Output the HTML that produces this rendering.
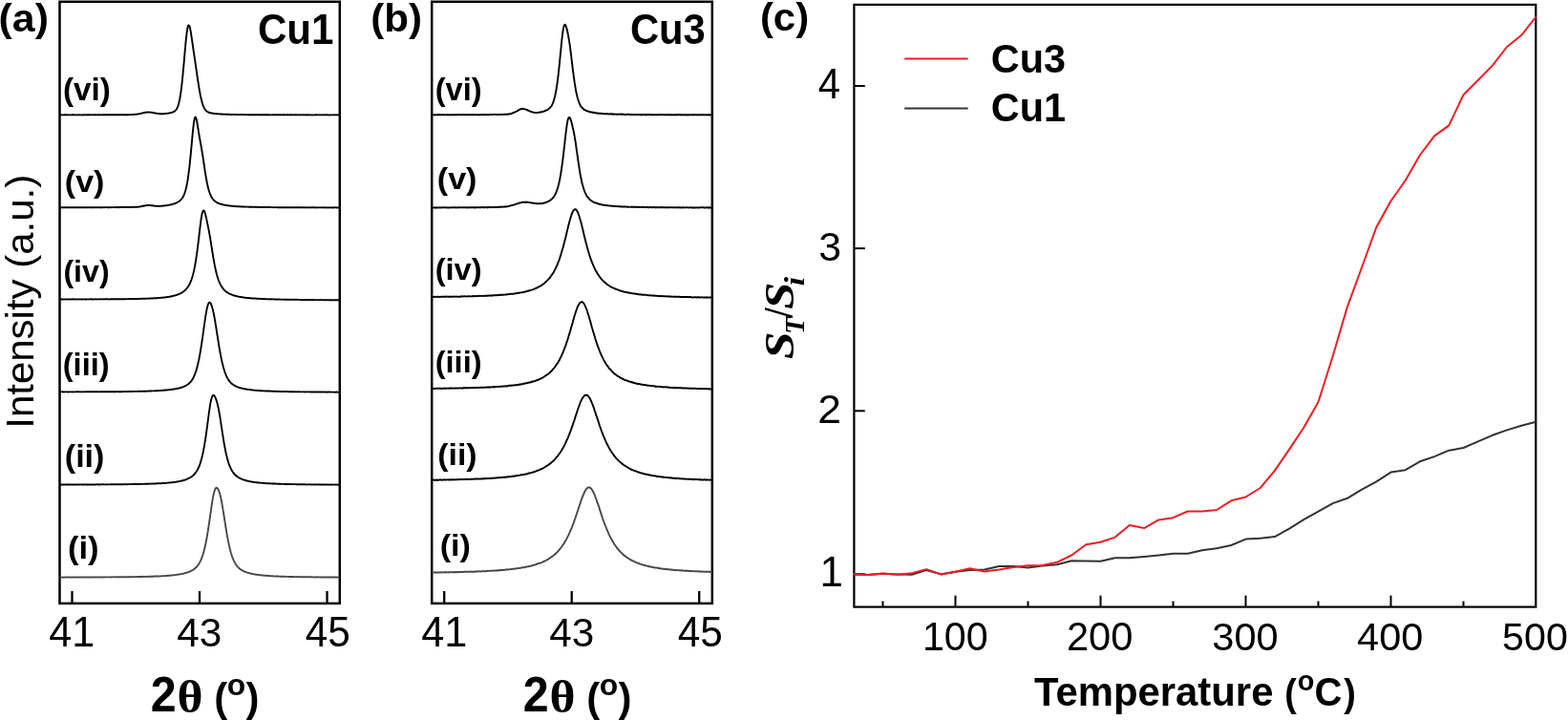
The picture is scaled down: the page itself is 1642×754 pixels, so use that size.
<!DOCTYPE html>
<html><head><meta charset="utf-8"><title>XRD and S_T/S_i figure</title>
<style>
html,body{margin:0;padding:0;background:#fff;overflow:hidden;width:1642px;height:754px;}
svg{display:block;}
.sb{font-family:"Liberation Sans",Arial,sans-serif;font-weight:bold;font-size:100px}
.sr{font-family:"Liberation Sans",Arial,sans-serif;font-weight:normal;font-size:100px}
.serif{font-family:"Liberation Serif","Times New Roman",serif;font-weight:normal;font-size:100px}
.serifb{font-family:"Liberation Serif","Times New Roman",serif;font-weight:bold;font-size:100px}
.sbi{font-family:"Liberation Serif","Times New Roman",serif;font-weight:bold;font-style:italic;font-size:100px}
</style></head>
<body>
<svg width="1642" height="754" viewBox="0 0 1642 754">
<rect width="1642" height="754" fill="#fff"/>
<rect x="62.5" y="1.8" width="293.3" height="630.1" fill="none" stroke="#000" stroke-width="2.5"/>
<line x1="75.50" y1="619" x2="75.50" y2="631" stroke="#000" stroke-width="2.3"/>
<line x1="209.00" y1="619" x2="209.00" y2="631" stroke="#000" stroke-width="2.3"/>
<line x1="342.50" y1="619" x2="342.50" y2="631" stroke="#000" stroke-width="2.3"/>
<rect x="452.2" y="1.8" width="293.6" height="630.1" fill="none" stroke="#000" stroke-width="2.5"/>
<line x1="465.20" y1="619" x2="465.20" y2="631" stroke="#000" stroke-width="2.3"/>
<line x1="598.70" y1="619" x2="598.70" y2="631" stroke="#000" stroke-width="2.3"/>
<line x1="732.20" y1="619" x2="732.20" y2="631" stroke="#000" stroke-width="2.3"/>
<rect x="894.4" y="4.9" width="713.9" height="630.7" fill="none" stroke="#000" stroke-width="2.2"/>
<line x1="924.50" y1="629.6" x2="924.50" y2="635.6" stroke="#000" stroke-width="2"/>
<line x1="1000.50" y1="623.6" x2="1000.50" y2="635.6" stroke="#000" stroke-width="2"/>
<line x1="1076.50" y1="629.6" x2="1076.50" y2="635.6" stroke="#000" stroke-width="2"/>
<line x1="1152.50" y1="623.6" x2="1152.50" y2="635.6" stroke="#000" stroke-width="2"/>
<line x1="1228.50" y1="629.6" x2="1228.50" y2="635.6" stroke="#000" stroke-width="2"/>
<line x1="1304.50" y1="623.6" x2="1304.50" y2="635.6" stroke="#000" stroke-width="2"/>
<line x1="1380.50" y1="629.6" x2="1380.50" y2="635.6" stroke="#000" stroke-width="2"/>
<line x1="1456.50" y1="623.6" x2="1456.50" y2="635.6" stroke="#000" stroke-width="2"/>
<line x1="1532.50" y1="629.6" x2="1532.50" y2="635.6" stroke="#000" stroke-width="2"/>
<line x1="894.4" y1="601.3" x2="905.8" y2="601.3" stroke="#000" stroke-width="2"/>
<line x1="894.4" y1="430.3" x2="905.8" y2="430.3" stroke="#000" stroke-width="2"/>
<line x1="894.4" y1="260.1" x2="905.8" y2="260.1" stroke="#000" stroke-width="2"/>
<line x1="894.4" y1="90.0" x2="905.8" y2="90.0" stroke="#000" stroke-width="2"/>
<line x1="947.2" y1="61.5" x2="1013.6" y2="61.5" stroke="#ee1c24" stroke-width="2"/>
<line x1="947.2" y1="113.5" x2="1013.6" y2="113.5" stroke="#333" stroke-width="2"/>
<polyline points="62.5,120.36 63.0,120.34 63.5,120.39 64.0,120.36 64.5,120.32 65.0,120.37 65.5,120.43 66.0,120.40 66.5,120.31 67.0,120.27 67.5,120.31 68.0,120.35 68.5,120.21 69.0,120.33 69.5,120.27 70.0,120.30 70.5,120.31 71.0,120.33 71.5,120.37 72.0,120.41 72.5,120.33 73.0,120.42 73.5,120.30 74.0,120.36 74.5,120.40 75.0,120.35 75.5,120.30 76.0,120.28 76.5,120.31 77.0,120.35 77.5,120.28 78.0,120.32 78.5,120.33 79.0,120.37 79.5,120.35 80.0,120.36 80.5,120.30 81.0,120.33 81.5,120.38 82.0,120.42 82.5,120.26 83.0,120.42 83.5,120.41 84.0,120.38 84.5,120.35 85.0,120.31 85.5,120.42 86.0,120.45 86.5,120.44 87.0,120.41 87.5,120.35 88.0,120.25 88.5,120.32 89.0,120.36 89.5,120.25 90.0,120.35 90.5,120.35 91.0,120.36 91.5,120.25 92.0,120.28 92.5,120.29 93.0,120.25 93.5,120.42 94.0,120.29 94.5,120.34 95.0,120.30 95.5,120.41 96.0,120.39 96.5,120.35 97.0,120.18 97.5,120.31 98.0,120.35 98.5,120.37 99.0,120.27 99.5,120.42 100.0,120.23 100.5,120.27 101.0,120.36 101.5,120.31 102.0,120.42 102.5,120.31 103.0,120.26 103.5,120.28 104.0,120.23 104.5,120.22 105.0,120.33 105.5,120.33 106.0,120.37 106.5,120.25 107.0,120.39 107.5,120.27 108.0,120.38 108.5,120.26 109.0,120.24 109.5,120.30 110.0,120.35 110.5,120.29 111.0,120.25 111.5,120.20 112.0,120.19 112.5,120.31 113.0,120.34 113.5,120.26 114.0,120.21 114.5,120.32 115.0,120.19 115.5,120.23 116.0,120.30 116.5,120.13 117.0,120.29 117.5,120.23 118.0,120.27 118.5,120.25 119.0,120.27 119.5,120.30 120.0,120.21 120.5,120.34 121.0,120.29 121.5,120.30 122.0,120.32 122.5,120.29 123.0,120.29 123.5,120.24 124.0,120.15 124.5,120.23 125.0,120.19 125.5,120.14 126.0,120.24 126.5,120.19 127.0,120.16 127.5,120.16 128.0,120.23 128.5,120.24 129.0,120.29 129.5,120.21 130.0,120.27 130.5,120.29 131.0,120.27 131.5,120.05 132.0,120.27 132.5,120.21 133.0,120.21 133.5,120.20 134.0,120.20 134.5,120.19 135.0,120.14 135.5,120.04 136.0,120.13 136.5,120.08 137.0,120.18 137.5,120.09 138.0,120.09 138.5,120.02 139.0,120.01 139.5,120.02 140.0,119.90 140.5,119.97 141.0,119.91 141.5,119.80 142.0,119.68 142.5,119.79 143.0,119.68 143.5,119.60 144.0,119.54 144.5,119.58 145.0,119.38 145.5,119.30 146.0,119.10 146.5,119.18 147.0,119.03 147.5,118.92 148.0,118.74 148.5,118.67 149.0,118.52 149.5,118.41 150.0,118.25 150.5,118.05 151.0,118.09 151.5,117.81 152.0,117.82 152.5,117.74 153.0,117.62 153.5,117.66 154.0,117.56 154.5,117.52 155.0,117.56 155.5,117.49 156.0,117.62 156.5,117.58 157.0,117.57 157.5,117.53 158.0,117.63 158.5,117.84 159.0,117.85 159.5,117.93 160.0,118.13 160.5,118.05 161.0,118.19 161.5,118.30 162.0,118.46 162.5,118.47 163.0,118.57 163.5,118.59 164.0,118.81 164.5,118.89 165.0,118.88 165.5,118.98 166.0,118.94 166.5,119.04 167.0,119.18 167.5,119.14 168.0,119.29 168.5,119.12 169.0,119.21 169.5,119.16 170.0,119.20 170.5,119.15 171.0,119.10 171.5,119.06 172.0,119.26 172.5,119.04 173.0,118.88 173.5,118.92 174.0,118.95 174.5,118.83 175.0,118.88 175.5,118.80 176.0,118.66 176.5,118.56 177.0,118.45 177.5,118.38 178.0,118.24 178.5,118.30 179.0,118.21 179.5,117.91 180.0,117.77 180.5,117.57 181.0,117.44 181.5,117.10 182.0,116.97 182.5,116.82 183.0,116.37 183.5,116.01 184.0,115.41 184.5,114.92 185.0,114.06 185.5,113.10 186.0,112.15 186.5,110.62 187.0,108.94 187.5,107.10 188.0,104.83 188.5,102.26 189.0,99.12 189.5,95.78 190.0,91.92 190.5,87.55 191.0,82.92 191.5,77.82 192.0,72.66 192.5,66.90 193.0,61.19 193.5,55.41 194.0,49.82 194.5,44.46 195.0,39.55 195.5,35.11 196.0,31.53 196.5,28.73 197.0,27.02 197.5,26.50 198.0,26.62 198.5,27.62 199.0,29.45 199.5,31.92 200.0,34.87 200.5,38.07 201.0,41.39 201.5,44.83 202.0,48.48 202.5,51.89 203.0,55.28 203.5,58.71 204.0,62.11 204.5,65.38 205.0,69.00 205.5,72.39 206.0,75.86 206.5,79.33 207.0,82.80 207.5,86.00 208.0,89.18 208.5,92.36 209.0,95.25 209.5,97.86 210.0,100.47 210.5,102.73 211.0,104.87 211.5,106.68 212.0,108.51 212.5,110.04 213.0,111.33 213.5,112.47 214.0,113.20 214.5,114.29 215.0,115.00 215.5,115.60 216.0,116.09 216.5,116.56 217.0,116.95 217.5,117.21 218.0,117.46 218.5,117.78 219.0,117.82 219.5,118.11 220.0,118.20 220.5,118.27 221.0,118.41 221.5,118.47 222.0,118.65 222.5,118.71 223.0,118.73 223.5,118.77 224.0,118.92 224.5,119.02 225.0,119.01 225.5,119.09 226.0,119.10 226.5,119.17 227.0,119.19 227.5,119.27 228.0,119.20 228.5,119.37 229.0,119.35 229.5,119.42 230.0,119.41 230.5,119.48 231.0,119.43 231.5,119.59 232.0,119.45 232.5,119.51 233.0,119.61 233.5,119.71 234.0,119.66 234.5,119.65 235.0,119.60 235.5,119.69 236.0,119.72 236.5,119.84 237.0,119.80 237.5,119.68 238.0,119.91 238.5,119.78 239.0,119.77 239.5,119.92 240.0,119.85 240.5,119.84 241.0,119.89 241.5,119.94 242.0,119.96 242.5,119.83 243.0,120.04 243.5,119.99 244.0,119.92 244.5,119.90 245.0,119.91 245.5,119.98 246.0,119.94 246.5,119.94 247.0,120.05 247.5,120.03 248.0,119.99 248.5,120.07 249.0,120.11 249.5,119.97 250.0,120.01 250.5,120.11 251.0,120.10 251.5,120.08 252.0,120.14 252.5,120.01 253.0,120.00 253.5,120.04 254.0,120.10 254.5,120.05 255.0,120.08 255.5,120.05 256.0,120.08 256.5,120.06 257.0,120.15 257.5,120.18 258.0,120.11 258.5,120.13 259.0,120.11 259.5,120.18 260.0,120.16 260.5,120.25 261.0,120.09 261.5,120.19 262.0,120.19 262.5,120.15 263.0,120.21 263.5,120.09 264.0,120.31 264.5,120.10 265.0,120.24 265.5,120.12 266.0,120.26 266.5,120.17 267.0,120.21 267.5,120.21 268.0,120.27 268.5,120.19 269.0,120.03 269.5,120.17 270.0,120.23 270.5,120.19 271.0,120.27 271.5,120.29 272.0,120.22 272.5,120.14 273.0,120.31 273.5,120.30 274.0,120.22 274.5,120.37 275.0,120.22 275.5,120.17 276.0,120.24 276.5,120.31 277.0,120.19 277.5,120.37 278.0,120.20 278.5,120.31 279.0,120.29 279.5,120.25 280.0,120.32 280.5,120.17 281.0,120.34 281.5,120.26 282.0,120.23 282.5,120.31 283.0,120.33 283.5,120.32 284.0,120.39 284.5,120.34 285.0,120.35 285.5,120.24 286.0,120.28 286.5,120.31 287.0,120.28 287.5,120.30 288.0,120.31 288.5,120.34 289.0,120.28 289.5,120.27 290.0,120.24 290.5,120.24 291.0,120.36 291.5,120.29 292.0,120.34 292.5,120.22 293.0,120.18 293.5,120.23 294.0,120.37 294.5,120.36 295.0,120.32 295.5,120.25 296.0,120.29 296.5,120.29 297.0,120.28 297.5,120.15 298.0,120.25 298.5,120.30 299.0,120.40 299.5,120.32 300.0,120.39 300.5,120.29 301.0,120.30 301.5,120.08 302.0,120.34 302.5,120.35 303.0,120.42 303.5,120.29 304.0,120.32 304.5,120.28 305.0,120.25 305.5,120.28 306.0,120.30 306.5,120.40 307.0,120.32 307.5,120.27 308.0,120.33 308.5,120.34 309.0,120.28 309.5,120.39 310.0,120.21 310.5,120.31 311.0,120.37 311.5,120.25 312.0,120.35 312.5,120.41 313.0,120.36 313.5,120.23 314.0,120.29 314.5,120.41 315.0,120.35 315.5,120.33 316.0,120.36 316.5,120.38 317.0,120.29 317.5,120.32 318.0,120.34 318.5,120.30 319.0,120.33 319.5,120.41 320.0,120.28 320.5,120.45 321.0,120.45 321.5,120.24 322.0,120.33 322.5,120.36 323.0,120.29 323.5,120.30 324.0,120.33 324.5,120.39 325.0,120.31 325.5,120.45 326.0,120.36 326.5,120.34 327.0,120.43 327.5,120.38 328.0,120.37 328.5,120.33 329.0,120.45 329.5,120.39 330.0,120.33 330.5,120.25 331.0,120.37 331.5,120.28 332.0,120.25 332.5,120.33 333.0,120.37 333.5,120.43 334.0,120.37 334.5,120.40 335.0,120.28 335.5,120.35 336.0,120.36 336.5,120.40 337.0,120.36 337.5,120.40 338.0,120.32 338.5,120.37 339.0,120.38 339.5,120.28 340.0,120.36 340.5,120.33 341.0,120.24 341.5,120.41 342.0,120.33 342.5,120.30 343.0,120.33 343.5,120.36 344.0,120.45 344.5,120.35 345.0,120.39 345.5,120.44 346.0,120.39 346.5,120.42 347.0,120.33 347.5,120.40 348.0,120.36 348.5,120.42 349.0,120.30 349.5,120.31 350.0,120.44 350.5,120.35 351.0,120.34 351.5,120.37 352.0,120.32 352.5,120.44 353.0,120.29 353.5,120.35 354.0,120.38 354.5,120.36 355.0,120.31 355.5,120.31" fill="none" stroke="#000" stroke-width="1.9" stroke-linejoin="round"/>
<polyline points="62.5,217.31 63.0,217.34 63.5,217.31 64.0,217.21 64.5,217.34 65.0,217.31 65.5,217.25 66.0,217.32 66.5,217.30 67.0,217.30 67.5,217.28 68.0,217.31 68.5,217.24 69.0,217.27 69.5,217.25 70.0,217.31 70.5,217.28 71.0,217.26 71.5,217.23 72.0,217.26 72.5,217.27 73.0,217.26 73.5,217.35 74.0,217.33 74.5,217.11 75.0,217.16 75.5,217.26 76.0,217.24 76.5,217.28 77.0,217.28 77.5,217.39 78.0,217.20 78.5,217.24 79.0,217.38 79.5,217.30 80.0,217.30 80.5,217.23 81.0,217.16 81.5,217.27 82.0,217.26 82.5,217.18 83.0,217.21 83.5,217.25 84.0,217.19 84.5,217.24 85.0,217.26 85.5,217.25 86.0,217.22 86.5,217.28 87.0,217.30 87.5,217.26 88.0,217.19 88.5,217.28 89.0,217.21 89.5,217.29 90.0,217.17 90.5,217.29 91.0,217.23 91.5,217.16 92.0,217.21 92.5,217.23 93.0,217.25 93.5,217.17 94.0,217.16 94.5,217.24 95.0,217.20 95.5,217.24 96.0,217.27 96.5,217.12 97.0,217.23 97.5,217.29 98.0,217.20 98.5,217.16 99.0,217.26 99.5,217.22 100.0,217.26 100.5,217.18 101.0,217.11 101.5,217.19 102.0,217.17 102.5,217.24 103.0,217.21 103.5,217.10 104.0,217.12 104.5,217.24 105.0,217.23 105.5,217.15 106.0,217.18 106.5,217.21 107.0,217.21 107.5,217.23 108.0,217.19 108.5,217.17 109.0,217.15 109.5,217.23 110.0,217.03 110.5,217.15 111.0,217.16 111.5,217.07 112.0,217.17 112.5,217.11 113.0,217.20 113.5,217.14 114.0,217.18 114.5,217.21 115.0,217.16 115.5,217.08 116.0,217.04 116.5,217.23 117.0,217.12 117.5,217.08 118.0,217.13 118.5,217.11 119.0,217.16 119.5,217.11 120.0,217.11 120.5,217.06 121.0,217.13 121.5,217.03 122.0,217.13 122.5,217.18 123.0,216.99 123.5,216.93 124.0,217.11 124.5,217.23 125.0,217.01 125.5,216.99 126.0,217.10 126.5,217.01 127.0,217.02 127.5,217.03 128.0,217.07 128.5,217.01 129.0,217.05 129.5,217.02 130.0,216.97 130.5,217.00 131.0,216.95 131.5,217.01 132.0,216.93 132.5,216.93 133.0,217.08 133.5,216.98 134.0,216.97 134.5,217.00 135.0,216.94 135.5,216.94 136.0,216.98 136.5,216.96 137.0,216.87 137.5,216.98 138.0,216.89 138.5,216.85 139.0,216.85 139.5,216.87 140.0,216.98 140.5,216.80 141.0,216.86 141.5,216.70 142.0,216.81 142.5,216.84 143.0,216.75 143.5,216.69 144.0,216.70 144.5,216.69 145.0,216.64 145.5,216.66 146.0,216.49 146.5,216.37 147.0,216.32 147.5,216.24 148.0,216.16 148.5,216.05 149.0,215.96 149.5,215.74 150.0,215.78 150.5,215.59 151.0,215.44 151.5,215.44 152.0,215.39 152.5,215.24 153.0,215.14 153.5,215.01 154.0,215.18 154.5,215.02 155.0,214.88 155.5,214.89 156.0,214.95 156.5,214.87 157.0,215.01 157.5,215.01 158.0,215.17 158.5,215.22 159.0,215.07 159.5,215.31 160.0,215.28 160.5,215.52 161.0,215.54 161.5,215.63 162.0,215.59 162.5,215.82 163.0,215.87 163.5,215.73 164.0,215.84 164.5,215.80 165.0,215.85 165.5,215.79 166.0,215.97 166.5,215.79 167.0,215.82 167.5,215.85 168.0,215.75 168.5,215.75 169.0,215.69 169.5,215.68 170.0,215.57 170.5,215.57 171.0,215.54 171.5,215.48 172.0,215.45 172.5,215.37 173.0,215.37 173.5,215.24 174.0,215.19 174.5,215.08 175.0,215.02 175.5,214.90 176.0,214.92 176.5,214.73 177.0,214.67 177.5,214.64 178.0,214.54 178.5,214.39 179.0,214.18 179.5,214.21 180.0,214.07 180.5,213.84 181.0,213.83 181.5,213.60 182.0,213.42 182.5,213.32 183.0,213.13 183.5,212.96 184.0,212.65 184.5,212.64 185.0,212.26 185.5,211.96 186.0,211.82 186.5,211.47 187.0,211.20 187.5,210.81 188.0,210.46 188.5,210.06 189.0,209.55 189.5,209.13 190.0,208.50 190.5,207.85 191.0,207.20 191.5,206.42 192.0,205.46 192.5,204.38 193.0,203.28 193.5,201.78 194.0,200.27 194.5,198.56 195.0,196.46 195.5,194.25 196.0,191.66 196.5,188.82 197.0,185.46 197.5,181.88 198.0,177.98 198.5,173.49 199.0,169.16 199.5,163.94 200.0,158.69 200.5,153.34 201.0,147.77 201.5,142.22 202.0,137.19 202.5,132.51 203.0,128.45 203.5,125.40 204.0,123.48 204.5,122.57 205.0,122.95 205.5,124.23 206.0,126.25 206.5,128.85 207.0,131.90 207.5,134.99 208.0,138.23 208.5,141.23 209.0,144.20 209.5,146.97 210.0,149.72 210.5,152.40 211.0,155.28 211.5,158.27 212.0,161.23 212.5,164.45 213.0,167.83 213.5,171.24 214.0,174.65 214.5,178.07 215.0,181.28 215.5,184.47 216.0,187.28 216.5,189.99 217.0,192.51 217.5,194.70 218.0,196.87 218.5,198.61 219.0,200.28 219.5,201.81 220.0,203.17 220.5,204.29 221.0,205.44 221.5,206.29 222.0,207.32 222.5,207.98 223.0,208.61 223.5,209.18 224.0,209.74 224.5,210.22 225.0,210.59 225.5,210.98 226.0,211.38 226.5,211.67 227.0,212.05 227.5,212.33 228.0,212.50 228.5,212.76 229.0,212.86 229.5,213.17 230.0,213.32 230.5,213.52 231.0,213.75 231.5,213.66 232.0,213.96 232.5,214.01 233.0,214.24 233.5,214.24 234.0,214.41 234.5,214.55 235.0,214.68 235.5,214.74 236.0,214.78 236.5,214.88 237.0,215.05 237.5,215.08 238.0,215.05 238.5,215.28 239.0,215.32 239.5,215.41 240.0,215.40 240.5,215.53 241.0,215.47 241.5,215.63 242.0,215.61 242.5,215.73 243.0,215.80 243.5,215.74 244.0,215.83 244.5,215.88 245.0,215.99 245.5,216.00 246.0,215.92 246.5,216.06 247.0,216.11 247.5,216.23 248.0,216.03 248.5,216.13 249.0,216.27 249.5,216.14 250.0,216.18 250.5,216.31 251.0,216.37 251.5,216.29 252.0,216.39 252.5,216.39 253.0,216.49 253.5,216.43 254.0,216.51 254.5,216.41 255.0,216.48 255.5,216.50 256.0,216.60 256.5,216.58 257.0,216.52 257.5,216.62 258.0,216.65 258.5,216.61 259.0,216.62 259.5,216.64 260.0,216.56 260.5,216.69 261.0,216.71 261.5,216.66 262.0,216.77 262.5,216.65 263.0,216.71 263.5,216.73 264.0,216.89 264.5,216.69 265.0,216.83 265.5,216.86 266.0,216.84 266.5,216.90 267.0,216.78 267.5,216.71 268.0,216.91 268.5,216.80 269.0,216.86 269.5,216.82 270.0,216.96 270.5,216.96 271.0,216.87 271.5,216.98 272.0,216.94 272.5,216.93 273.0,216.95 273.5,216.95 274.0,217.00 274.5,216.99 275.0,216.96 275.5,217.05 276.0,216.96 276.5,217.02 277.0,217.04 277.5,217.11 278.0,216.99 278.5,217.13 279.0,217.05 279.5,217.03 280.0,217.01 280.5,217.09 281.0,217.06 281.5,217.00 282.0,217.00 282.5,217.04 283.0,217.04 283.5,217.15 284.0,217.17 284.5,217.15 285.0,217.12 285.5,217.08 286.0,217.11 286.5,217.17 287.0,217.25 287.5,217.18 288.0,217.11 288.5,217.14 289.0,217.11 289.5,217.10 290.0,217.14 290.5,217.16 291.0,217.27 291.5,217.16 292.0,217.24 292.5,217.27 293.0,217.18 293.5,217.27 294.0,217.22 294.5,217.16 295.0,217.20 295.5,217.19 296.0,217.18 296.5,217.18 297.0,217.21 297.5,217.23 298.0,217.15 298.5,217.21 299.0,217.12 299.5,217.23 300.0,217.25 300.5,217.23 301.0,217.24 301.5,217.26 302.0,217.19 302.5,217.22 303.0,217.26 303.5,217.30 304.0,217.26 304.5,217.40 305.0,217.24 305.5,217.31 306.0,217.33 306.5,217.24 307.0,217.21 307.5,217.19 308.0,217.27 308.5,217.33 309.0,217.28 309.5,217.28 310.0,217.25 310.5,217.30 311.0,217.15 311.5,217.29 312.0,217.28 312.5,217.20 313.0,217.41 313.5,217.20 314.0,217.22 314.5,217.22 315.0,217.36 315.5,217.24 316.0,217.33 316.5,217.33 317.0,217.31 317.5,217.22 318.0,217.26 318.5,217.40 319.0,217.23 319.5,217.26 320.0,217.30 320.5,217.36 321.0,217.33 321.5,217.36 322.0,217.25 322.5,217.37 323.0,217.35 323.5,217.22 324.0,217.41 324.5,217.46 325.0,217.28 325.5,217.33 326.0,217.41 326.5,217.24 327.0,217.21 327.5,217.25 328.0,217.30 328.5,217.30 329.0,217.37 329.5,217.35 330.0,217.26 330.5,217.38 331.0,217.45 331.5,217.42 332.0,217.40 332.5,217.35 333.0,217.41 333.5,217.29 334.0,217.40 334.5,217.35 335.0,217.42 335.5,217.38 336.0,217.29 336.5,217.36 337.0,217.43 337.5,217.29 338.0,217.33 338.5,217.32 339.0,217.27 339.5,217.42 340.0,217.44 340.5,217.41 341.0,217.38 341.5,217.37 342.0,217.38 342.5,217.33 343.0,217.43 343.5,217.44 344.0,217.43 344.5,217.34 345.0,217.38 345.5,217.37 346.0,217.49 346.5,217.39 347.0,217.27 347.5,217.40 348.0,217.49 348.5,217.42 349.0,217.44 349.5,217.39 350.0,217.27 350.5,217.28 351.0,217.31 351.5,217.38 352.0,217.41 352.5,217.43 353.0,217.37 353.5,217.45 354.0,217.38 354.5,217.35 355.0,217.45 355.5,217.34" fill="none" stroke="#000" stroke-width="1.9" stroke-linejoin="round"/>
<polyline points="62.5,313.42 63.0,313.37 63.5,313.38 64.0,313.26 64.5,313.51 65.0,313.48 65.5,313.39 66.0,313.45 66.5,313.42 67.0,313.37 67.5,313.47 68.0,313.39 68.5,313.39 69.0,313.36 69.5,313.44 70.0,313.40 70.5,313.44 71.0,313.37 71.5,313.42 72.0,313.35 72.5,313.46 73.0,313.42 73.5,313.43 74.0,313.43 74.5,313.35 75.0,313.45 75.5,313.53 76.0,313.31 76.5,313.30 77.0,313.32 77.5,313.46 78.0,313.41 78.5,313.47 79.0,313.45 79.5,313.42 80.0,313.42 80.5,313.40 81.0,313.46 81.5,313.34 82.0,313.38 82.5,313.42 83.0,313.51 83.5,313.36 84.0,313.34 84.5,313.37 85.0,313.46 85.5,313.39 86.0,313.48 86.5,313.29 87.0,313.47 87.5,313.46 88.0,313.31 88.5,313.41 89.0,313.47 89.5,313.40 90.0,313.46 90.5,313.54 91.0,313.41 91.5,313.38 92.0,313.35 92.5,313.43 93.0,313.38 93.5,313.38 94.0,313.38 94.5,313.43 95.0,313.32 95.5,313.29 96.0,313.24 96.5,313.45 97.0,313.39 97.5,313.47 98.0,313.38 98.5,313.33 99.0,313.40 99.5,313.37 100.0,313.30 100.5,313.32 101.0,313.48 101.5,313.39 102.0,313.39 102.5,313.35 103.0,313.32 103.5,313.42 104.0,313.35 104.5,313.31 105.0,313.35 105.5,313.30 106.0,313.36 106.5,313.42 107.0,313.30 107.5,313.43 108.0,313.30 108.5,313.35 109.0,313.29 109.5,313.32 110.0,313.34 110.5,313.31 111.0,313.29 111.5,313.29 112.0,313.28 112.5,313.23 113.0,313.30 113.5,313.34 114.0,313.37 114.5,313.35 115.0,313.46 115.5,313.32 116.0,313.27 116.5,313.41 117.0,313.23 117.5,313.35 118.0,313.23 118.5,313.31 119.0,313.16 119.5,313.33 120.0,313.27 120.5,313.21 121.0,313.37 121.5,313.31 122.0,313.26 122.5,313.21 123.0,313.25 123.5,313.24 124.0,313.28 124.5,313.28 125.0,313.19 125.5,313.19 126.0,313.19 126.5,313.14 127.0,313.18 127.5,313.20 128.0,313.24 128.5,313.28 129.0,313.14 129.5,313.22 130.0,313.15 130.5,313.30 131.0,313.16 131.5,313.19 132.0,313.10 132.5,313.10 133.0,313.15 133.5,313.11 134.0,313.15 134.5,313.03 135.0,313.15 135.5,313.05 136.0,313.20 136.5,313.07 137.0,313.15 137.5,312.99 138.0,313.09 138.5,313.00 139.0,313.02 139.5,313.04 140.0,313.01 140.5,313.04 141.0,313.06 141.5,313.04 142.0,312.99 142.5,312.90 143.0,312.92 143.5,312.95 144.0,312.82 144.5,312.98 145.0,312.91 145.5,312.90 146.0,312.96 146.5,312.93 147.0,312.89 147.5,312.80 148.0,312.87 148.5,312.86 149.0,312.77 149.5,312.87 150.0,312.82 150.5,312.66 151.0,312.77 151.5,312.67 152.0,312.80 152.5,312.76 153.0,312.63 153.5,312.62 154.0,312.66 154.5,312.63 155.0,312.71 155.5,312.64 156.0,312.56 156.5,312.59 157.0,312.42 157.5,312.53 158.0,312.54 158.5,312.46 159.0,312.40 159.5,312.45 160.0,312.51 160.5,312.38 161.0,312.27 161.5,312.40 162.0,312.17 162.5,312.28 163.0,312.19 163.5,312.25 164.0,312.11 164.5,312.21 165.0,312.11 165.5,311.95 166.0,311.90 166.5,311.96 167.0,312.02 167.5,311.91 168.0,311.86 168.5,311.80 169.0,311.82 169.5,311.75 170.0,311.70 170.5,311.57 171.0,311.65 171.5,311.61 172.0,311.39 172.5,311.55 173.0,311.40 173.5,311.26 174.0,311.11 174.5,311.20 175.0,311.13 175.5,310.99 176.0,310.84 176.5,310.94 177.0,310.76 177.5,310.68 178.0,310.79 178.5,310.66 179.0,310.49 179.5,310.31 180.0,310.28 180.5,309.99 181.0,310.02 181.5,309.86 182.0,309.70 182.5,309.56 183.0,309.55 183.5,309.38 184.0,309.24 184.5,309.13 185.0,308.86 185.5,308.67 186.0,308.46 186.5,308.36 187.0,308.22 187.5,307.96 188.0,307.79 188.5,307.44 189.0,307.24 189.5,306.96 190.0,306.66 190.5,306.55 191.0,306.18 191.5,305.75 192.0,305.39 192.5,305.06 193.0,304.57 193.5,304.25 194.0,303.69 194.5,303.25 195.0,302.67 195.5,302.13 196.0,301.45 196.5,300.76 197.0,300.06 197.5,299.28 198.0,298.44 198.5,297.51 199.0,296.57 199.5,295.39 200.0,294.10 200.5,292.80 201.0,291.24 201.5,289.75 202.0,287.93 202.5,285.88 203.0,283.89 203.5,281.59 204.0,278.87 204.5,276.26 205.0,273.33 205.5,270.06 206.0,266.69 206.5,263.05 207.0,259.27 207.5,255.20 208.0,251.12 208.5,246.63 209.0,242.40 209.5,238.08 210.0,234.03 210.5,230.20 211.0,226.86 211.5,224.22 212.0,222.26 212.5,221.00 213.0,220.37 213.5,220.49 214.0,221.18 214.5,222.61 215.0,224.29 215.5,226.16 216.0,228.37 216.5,230.61 217.0,233.13 217.5,235.49 218.0,237.93 218.5,240.51 219.0,243.16 219.5,245.87 220.0,248.70 220.5,251.70 221.0,254.77 221.5,258.06 222.0,261.35 222.5,264.28 223.0,267.49 223.5,270.51 224.0,273.31 224.5,276.12 225.0,278.63 225.5,281.18 226.0,283.33 226.5,285.46 227.0,287.43 227.5,289.14 228.0,290.70 228.5,292.29 229.0,293.76 229.5,294.98 230.0,296.17 230.5,297.17 231.0,298.23 231.5,299.18 232.0,299.97 232.5,300.85 233.0,301.44 233.5,302.04 234.0,302.61 234.5,303.34 235.0,303.79 235.5,304.33 236.0,304.75 236.5,305.24 237.0,305.61 237.5,305.88 238.0,306.26 238.5,306.63 239.0,306.79 239.5,307.24 240.0,307.49 240.5,307.73 241.0,307.90 241.5,308.15 242.0,308.28 242.5,308.56 243.0,308.71 243.5,308.94 244.0,309.07 244.5,309.29 245.0,309.50 245.5,309.50 246.0,309.78 246.5,309.74 247.0,309.86 247.5,310.11 248.0,310.24 248.5,310.38 249.0,310.36 249.5,310.56 250.0,310.68 250.5,310.84 251.0,310.85 251.5,310.98 252.0,310.98 252.5,311.11 253.0,311.17 253.5,311.32 254.0,311.29 254.5,311.37 255.0,311.52 255.5,311.66 256.0,311.64 256.5,311.70 257.0,311.72 257.5,311.86 258.0,311.89 258.5,312.01 259.0,311.98 259.5,311.95 260.0,312.03 260.5,312.05 261.0,312.08 261.5,312.27 262.0,312.29 262.5,312.21 263.0,312.43 263.5,312.38 264.0,312.35 264.5,312.46 265.0,312.47 265.5,312.47 266.0,312.43 266.5,312.58 267.0,312.63 267.5,312.49 268.0,312.71 268.5,312.74 269.0,312.71 269.5,312.77 270.0,312.77 270.5,312.77 271.0,312.82 271.5,312.95 272.0,312.81 272.5,312.93 273.0,312.96 273.5,312.93 274.0,312.96 274.5,312.93 275.0,312.98 275.5,313.06 276.0,313.10 276.5,313.04 277.0,313.30 277.5,313.10 278.0,313.16 278.5,313.16 279.0,313.17 279.5,313.29 280.0,313.20 280.5,313.33 281.0,313.33 281.5,313.22 282.0,313.36 282.5,313.27 283.0,313.49 283.5,313.32 284.0,313.30 284.5,313.26 285.0,313.31 285.5,313.36 286.0,313.35 286.5,313.35 287.0,313.40 287.5,313.44 288.0,313.55 288.5,313.38 289.0,313.46 289.5,313.45 290.0,313.42 290.5,313.45 291.0,313.48 291.5,313.59 292.0,313.55 292.5,313.54 293.0,313.62 293.5,313.61 294.0,313.59 294.5,313.64 295.0,313.57 295.5,313.67 296.0,313.67 296.5,313.63 297.0,313.59 297.5,313.76 298.0,313.69 298.5,313.87 299.0,313.66 299.5,313.76 300.0,313.69 300.5,313.74 301.0,313.78 301.5,313.70 302.0,313.75 302.5,313.77 303.0,313.77 303.5,313.81 304.0,313.84 304.5,313.84 305.0,313.81 305.5,313.79 306.0,313.75 306.5,313.78 307.0,313.80 307.5,313.88 308.0,313.82 308.5,313.77 309.0,313.89 309.5,313.81 310.0,313.82 310.5,313.86 311.0,313.91 311.5,313.74 312.0,313.83 312.5,313.91 313.0,313.89 313.5,313.86 314.0,313.89 314.5,314.01 315.0,313.90 315.5,313.98 316.0,313.99 316.5,313.92 317.0,313.98 317.5,313.93 318.0,313.93 318.5,313.90 319.0,314.03 319.5,313.96 320.0,313.96 320.5,313.93 321.0,314.11 321.5,314.05 322.0,314.00 322.5,313.97 323.0,313.93 323.5,314.04 324.0,314.05 324.5,313.95 325.0,314.11 325.5,314.09 326.0,313.99 326.5,314.02 327.0,314.03 327.5,314.07 328.0,314.06 328.5,313.97 329.0,314.17 329.5,314.10 330.0,314.16 330.5,314.17 331.0,314.08 331.5,314.12 332.0,314.15 332.5,314.15 333.0,314.10 333.5,314.08 334.0,314.12 334.5,314.08 335.0,314.09 335.5,314.01 336.0,314.14 336.5,314.08 337.0,314.11 337.5,314.14 338.0,314.17 338.5,314.27 339.0,314.17 339.5,314.08 340.0,314.18 340.5,314.14 341.0,314.20 341.5,314.14 342.0,314.14 342.5,314.16 343.0,314.15 343.5,314.08 344.0,314.16 344.5,314.20 345.0,314.28 345.5,314.19 346.0,314.19 346.5,314.25 347.0,314.25 347.5,314.32 348.0,314.26 348.5,314.23 349.0,314.31 349.5,314.33 350.0,314.21 350.5,314.25 351.0,314.14 351.5,314.23 352.0,314.20 352.5,314.24 353.0,314.23 353.5,314.25 354.0,314.26 354.5,314.30 355.0,314.28 355.5,314.24" fill="none" stroke="#000" stroke-width="1.9" stroke-linejoin="round"/>
<polyline points="62.5,410.53 63.0,410.26 63.5,410.43 64.0,410.37 64.5,410.38 65.0,410.39 65.5,410.28 66.0,410.39 66.5,410.35 67.0,410.60 67.5,410.42 68.0,410.38 68.5,410.38 69.0,410.36 69.5,410.34 70.0,410.37 70.5,410.43 71.0,410.38 71.5,410.45 72.0,410.38 72.5,410.40 73.0,410.49 73.5,410.42 74.0,410.36 74.5,410.38 75.0,410.42 75.5,410.50 76.0,410.37 76.5,410.37 77.0,410.44 77.5,410.33 78.0,410.36 78.5,410.43 79.0,410.41 79.5,410.38 80.0,410.42 80.5,410.21 81.0,410.44 81.5,410.32 82.0,410.27 82.5,410.39 83.0,410.41 83.5,410.34 84.0,410.30 84.5,410.37 85.0,410.36 85.5,410.45 86.0,410.41 86.5,410.37 87.0,410.43 87.5,410.34 88.0,410.30 88.5,410.39 89.0,410.39 89.5,410.34 90.0,410.30 90.5,410.36 91.0,410.20 91.5,410.39 92.0,410.37 92.5,410.24 93.0,410.34 93.5,410.28 94.0,410.38 94.5,410.21 95.0,410.28 95.5,410.37 96.0,410.40 96.5,410.20 97.0,410.29 97.5,410.34 98.0,410.28 98.5,410.41 99.0,410.24 99.5,410.33 100.0,410.25 100.5,410.39 101.0,410.31 101.5,410.28 102.0,410.20 102.5,410.40 103.0,410.34 103.5,410.34 104.0,410.36 104.5,410.31 105.0,410.25 105.5,410.24 106.0,410.23 106.5,410.36 107.0,410.19 107.5,410.24 108.0,410.25 108.5,410.28 109.0,410.30 109.5,410.19 110.0,410.16 110.5,410.26 111.0,410.33 111.5,410.30 112.0,410.26 112.5,410.23 113.0,410.26 113.5,410.22 114.0,410.28 114.5,410.18 115.0,410.24 115.5,410.22 116.0,410.25 116.5,410.23 117.0,410.37 117.5,410.30 118.0,410.29 118.5,410.08 119.0,410.18 119.5,410.16 120.0,410.22 120.5,410.05 121.0,410.25 121.5,410.24 122.0,410.09 122.5,410.11 123.0,410.11 123.5,410.16 124.0,410.19 124.5,410.27 125.0,410.13 125.5,410.18 126.0,410.14 126.5,410.23 127.0,410.17 127.5,410.20 128.0,410.05 128.5,410.10 129.0,410.05 129.5,410.19 130.0,410.13 130.5,410.07 131.0,410.05 131.5,410.10 132.0,410.02 132.5,410.00 133.0,410.08 133.5,410.19 134.0,410.02 134.5,410.00 135.0,409.95 135.5,409.94 136.0,410.04 136.5,410.05 137.0,410.00 137.5,410.01 138.0,409.99 138.5,409.98 139.0,409.87 139.5,409.93 140.0,409.95 140.5,409.89 141.0,409.90 141.5,409.87 142.0,409.89 142.5,409.95 143.0,409.87 143.5,409.87 144.0,409.92 144.5,409.90 145.0,409.95 145.5,409.72 146.0,409.88 146.5,409.79 147.0,409.82 147.5,409.85 148.0,409.85 148.5,409.84 149.0,409.77 149.5,409.84 150.0,409.72 150.5,409.71 151.0,409.76 151.5,409.66 152.0,409.81 152.5,409.73 153.0,409.78 153.5,409.64 154.0,409.60 154.5,409.62 155.0,409.63 155.5,409.54 156.0,409.58 156.5,409.54 157.0,409.62 157.5,409.46 158.0,409.55 158.5,409.43 159.0,409.39 159.5,409.38 160.0,409.33 160.5,409.39 161.0,409.42 161.5,409.35 162.0,409.36 162.5,409.39 163.0,409.29 163.5,409.26 164.0,409.20 164.5,409.10 165.0,409.21 165.5,409.04 166.0,409.15 166.5,409.08 167.0,409.12 167.5,409.02 168.0,408.94 168.5,408.98 169.0,408.89 169.5,408.88 170.0,408.86 170.5,408.81 171.0,408.77 171.5,408.69 172.0,408.69 172.5,408.53 173.0,408.61 173.5,408.50 174.0,408.60 174.5,408.56 175.0,408.32 175.5,408.39 176.0,408.33 176.5,408.22 177.0,408.26 177.5,408.14 178.0,408.00 178.5,408.03 179.0,407.98 179.5,407.93 180.0,407.78 180.5,407.82 181.0,407.75 181.5,407.56 182.0,407.52 182.5,407.47 183.0,407.35 183.5,407.40 184.0,407.22 184.5,407.05 185.0,406.97 185.5,406.91 186.0,406.94 186.5,406.68 187.0,406.58 187.5,406.48 188.0,406.31 188.5,406.32 189.0,406.01 189.5,405.94 190.0,405.75 190.5,405.61 191.0,405.33 191.5,405.33 192.0,405.02 192.5,404.83 193.0,404.56 193.5,404.34 194.0,404.18 194.5,403.95 195.0,403.66 195.5,403.40 196.0,403.05 196.5,402.67 197.0,402.36 197.5,401.95 198.0,401.48 198.5,401.07 199.0,400.60 199.5,399.99 200.0,399.35 200.5,398.77 201.0,398.12 201.5,397.22 202.0,396.37 202.5,395.44 203.0,394.50 203.5,393.21 204.0,392.13 204.5,390.85 205.0,389.29 205.5,387.87 206.0,386.12 206.5,384.22 207.0,382.29 207.5,380.06 208.0,377.84 208.5,375.54 209.0,372.78 209.5,370.19 210.0,367.17 210.5,364.17 211.0,360.91 211.5,357.44 212.0,354.10 212.5,350.62 213.0,346.95 213.5,343.33 214.0,339.85 214.5,336.27 215.0,332.82 215.5,329.68 216.0,326.82 216.5,324.09 217.0,321.89 217.5,320.03 218.0,318.47 218.5,317.38 219.0,316.78 219.5,316.70 220.0,316.99 220.5,317.56 221.0,318.52 221.5,319.70 222.0,321.26 222.5,322.98 223.0,324.99 223.5,327.14 224.0,329.53 224.5,332.20 225.0,334.93 225.5,337.86 226.0,341.00 226.5,344.08 227.0,347.46 227.5,350.56 228.0,353.69 228.5,356.96 229.0,360.06 229.5,363.04 230.0,366.09 230.5,368.80 231.0,371.36 231.5,374.16 232.0,376.50 232.5,378.91 233.0,380.92 233.5,382.89 234.0,384.93 234.5,386.51 235.0,388.20 235.5,389.77 236.0,391.07 236.5,392.34 237.0,393.52 237.5,394.65 238.0,395.54 238.5,396.54 239.0,397.38 239.5,398.25 240.0,398.80 240.5,399.42 241.0,400.11 241.5,400.59 242.0,401.14 242.5,401.59 243.0,402.08 243.5,402.37 244.0,402.77 244.5,402.97 245.0,403.38 245.5,403.82 246.0,403.97 246.5,404.22 247.0,404.44 247.5,404.77 248.0,404.96 248.5,405.08 249.0,405.38 249.5,405.54 250.0,405.74 250.5,405.82 251.0,406.12 251.5,406.19 252.0,406.30 252.5,406.41 253.0,406.55 253.5,406.74 254.0,406.79 254.5,406.98 255.0,407.06 255.5,407.21 256.0,407.28 256.5,407.32 257.0,407.30 257.5,407.52 258.0,407.64 258.5,407.68 259.0,407.78 259.5,407.80 260.0,407.87 260.5,407.91 261.0,408.12 261.5,408.11 262.0,408.13 262.5,408.15 263.0,408.28 263.5,408.43 264.0,408.42 264.5,408.41 265.0,408.59 265.5,408.64 266.0,408.66 266.5,408.70 267.0,408.76 267.5,408.77 268.0,408.83 268.5,408.78 269.0,408.95 269.5,408.92 270.0,409.06 270.5,408.85 271.0,409.05 271.5,409.11 272.0,409.06 272.5,409.14 273.0,409.19 273.5,409.21 274.0,409.18 274.5,409.23 275.0,409.33 275.5,409.37 276.0,409.33 276.5,409.35 277.0,409.39 277.5,409.46 278.0,409.36 278.5,409.37 279.0,409.48 279.5,409.43 280.0,409.48 280.5,409.54 281.0,409.59 281.5,409.52 282.0,409.65 282.5,409.52 283.0,409.67 283.5,409.57 284.0,409.60 284.5,409.74 285.0,409.69 285.5,409.68 286.0,409.72 286.5,409.79 287.0,409.78 287.5,409.80 288.0,409.88 288.5,409.79 289.0,409.81 289.5,409.83 290.0,409.94 290.5,409.95 291.0,409.98 291.5,409.91 292.0,409.92 292.5,409.99 293.0,409.93 293.5,410.01 294.0,410.02 294.5,409.95 295.0,410.00 295.5,410.00 296.0,410.13 296.5,410.19 297.0,410.04 297.5,410.06 298.0,409.93 298.5,410.09 299.0,410.09 299.5,410.03 300.0,410.15 300.5,410.02 301.0,410.11 301.5,410.14 302.0,410.07 302.5,410.20 303.0,410.22 303.5,410.09 304.0,410.09 304.5,410.22 305.0,410.19 305.5,410.13 306.0,410.19 306.5,410.21 307.0,410.22 307.5,410.28 308.0,410.26 308.5,410.36 309.0,410.34 309.5,410.30 310.0,410.34 310.5,410.36 311.0,410.33 311.5,410.22 312.0,410.35 312.5,410.31 313.0,410.41 313.5,410.32 314.0,410.35 314.5,410.35 315.0,410.44 315.5,410.35 316.0,410.33 316.5,410.37 317.0,410.33 317.5,410.37 318.0,410.37 318.5,410.39 319.0,410.50 319.5,410.36 320.0,410.39 320.5,410.38 321.0,410.44 321.5,410.34 322.0,410.37 322.5,410.41 323.0,410.45 323.5,410.42 324.0,410.40 324.5,410.38 325.0,410.47 325.5,410.53 326.0,410.47 326.5,410.46 327.0,410.48 327.5,410.41 328.0,410.45 328.5,410.45 329.0,410.49 329.5,410.48 330.0,410.41 330.5,410.55 331.0,410.59 331.5,410.48 332.0,410.52 332.5,410.52 333.0,410.55 333.5,410.42 334.0,410.61 334.5,410.49 335.0,410.60 335.5,410.53 336.0,410.51 336.5,410.52 337.0,410.59 337.5,410.49 338.0,410.52 338.5,410.52 339.0,410.45 339.5,410.63 340.0,410.59 340.5,410.56 341.0,410.63 341.5,410.51 342.0,410.56 342.5,410.68 343.0,410.63 343.5,410.44 344.0,410.38 344.5,410.52 345.0,410.65 345.5,410.56 346.0,410.58 346.5,410.63 347.0,410.54 347.5,410.61 348.0,410.65 348.5,410.63 349.0,410.63 349.5,410.58 350.0,410.65 350.5,410.59 351.0,410.70 351.5,410.78 352.0,410.58 352.5,410.50 353.0,410.60 353.5,410.66 354.0,410.70 354.5,410.70 355.0,410.59 355.5,410.59" fill="none" stroke="#000" stroke-width="1.9" stroke-linejoin="round"/>
<polyline points="62.5,507.47 63.0,507.49 63.5,507.60 64.0,507.54 64.5,507.40 65.0,507.50 65.5,507.46 66.0,507.51 66.5,507.40 67.0,507.51 67.5,507.51 68.0,507.59 68.5,507.51 69.0,507.52 69.5,507.40 70.0,507.63 70.5,507.37 71.0,507.55 71.5,507.47 72.0,507.43 72.5,507.45 73.0,507.44 73.5,507.51 74.0,507.48 74.5,507.57 75.0,507.37 75.5,507.48 76.0,507.42 76.5,507.52 77.0,507.35 77.5,507.45 78.0,507.48 78.5,507.38 79.0,507.53 79.5,507.48 80.0,507.53 80.5,507.52 81.0,507.41 81.5,507.41 82.0,507.45 82.5,507.50 83.0,507.51 83.5,507.41 84.0,507.42 84.5,507.41 85.0,507.42 85.5,507.44 86.0,507.44 86.5,507.57 87.0,507.42 87.5,507.43 88.0,507.47 88.5,507.38 89.0,507.42 89.5,507.44 90.0,507.48 90.5,507.35 91.0,507.51 91.5,507.41 92.0,507.44 92.5,507.48 93.0,507.46 93.5,507.49 94.0,507.43 94.5,507.42 95.0,507.44 95.5,507.35 96.0,507.49 96.5,507.36 97.0,507.33 97.5,507.53 98.0,507.40 98.5,507.33 99.0,507.51 99.5,507.38 100.0,507.46 100.5,507.34 101.0,507.38 101.5,507.29 102.0,507.27 102.5,507.32 103.0,507.38 103.5,507.43 104.0,507.52 104.5,507.31 105.0,507.43 105.5,507.33 106.0,507.36 106.5,507.27 107.0,507.27 107.5,507.31 108.0,507.28 108.5,507.35 109.0,507.31 109.5,507.42 110.0,507.35 110.5,507.35 111.0,507.40 111.5,507.36 112.0,507.33 112.5,507.32 113.0,507.32 113.5,507.38 114.0,507.36 114.5,507.33 115.0,507.36 115.5,507.27 116.0,507.33 116.5,507.21 117.0,507.38 117.5,507.30 118.0,507.30 118.5,507.32 119.0,507.28 119.5,507.26 120.0,507.34 120.5,507.27 121.0,507.21 121.5,507.28 122.0,507.15 122.5,507.35 123.0,507.23 123.5,507.24 124.0,507.37 124.5,507.36 125.0,507.23 125.5,507.26 126.0,507.28 126.5,507.31 127.0,507.20 127.5,507.21 128.0,507.27 128.5,507.21 129.0,507.23 129.5,507.22 130.0,507.11 130.5,507.12 131.0,507.00 131.5,507.14 132.0,507.23 132.5,507.08 133.0,507.21 133.5,507.19 134.0,507.12 134.5,507.12 135.0,507.12 135.5,507.05 136.0,507.08 136.5,507.09 137.0,507.12 137.5,507.12 138.0,507.02 138.5,507.11 139.0,507.01 139.5,507.03 140.0,507.06 140.5,507.03 141.0,507.01 141.5,507.03 142.0,506.97 142.5,506.96 143.0,506.97 143.5,507.03 144.0,506.96 144.5,507.07 145.0,506.96 145.5,506.76 146.0,506.90 146.5,507.02 147.0,506.91 147.5,506.87 148.0,506.83 148.5,506.95 149.0,506.92 149.5,506.89 150.0,506.86 150.5,506.91 151.0,506.86 151.5,506.73 152.0,506.84 152.5,506.79 153.0,506.76 153.5,506.79 154.0,506.74 154.5,506.54 155.0,506.80 155.5,506.75 156.0,506.67 156.5,506.64 157.0,506.66 157.5,506.55 158.0,506.63 158.5,506.58 159.0,506.56 159.5,506.50 160.0,506.50 160.5,506.59 161.0,506.58 161.5,506.51 162.0,506.46 162.5,506.39 163.0,506.46 163.5,506.50 164.0,506.28 164.5,506.42 165.0,506.20 165.5,506.29 166.0,506.30 166.5,506.17 167.0,506.14 167.5,506.21 168.0,506.23 168.5,506.12 169.0,506.20 169.5,506.04 170.0,506.16 170.5,506.04 171.0,506.01 171.5,506.00 172.0,505.95 172.5,506.00 173.0,505.99 173.5,505.85 174.0,505.77 174.5,505.67 175.0,505.66 175.5,505.66 176.0,505.61 176.5,505.57 177.0,505.53 177.5,505.51 178.0,505.35 178.5,505.32 179.0,505.40 179.5,505.33 180.0,505.19 180.5,505.24 181.0,505.06 181.5,505.03 182.0,504.87 182.5,504.96 183.0,504.84 183.5,504.84 184.0,504.74 184.5,504.63 185.0,504.56 185.5,504.54 186.0,504.37 186.5,504.28 187.0,504.20 187.5,504.15 188.0,504.06 188.5,504.02 189.0,503.79 189.5,503.76 190.0,503.53 190.5,503.48 191.0,503.32 191.5,503.29 192.0,503.08 192.5,502.87 193.0,502.78 193.5,502.61 194.0,502.40 194.5,502.23 195.0,502.01 195.5,502.04 196.0,501.68 196.5,501.51 197.0,501.16 197.5,500.93 198.0,500.73 198.5,500.47 199.0,500.24 199.5,499.83 200.0,499.61 200.5,499.33 201.0,498.82 201.5,498.54 202.0,498.02 202.5,497.65 203.0,497.17 203.5,496.74 204.0,496.04 204.5,495.49 205.0,494.89 205.5,494.04 206.0,493.34 206.5,492.46 207.0,491.55 207.5,490.64 208.0,489.56 208.5,488.50 209.0,487.14 209.5,485.74 210.0,484.13 210.5,482.47 211.0,480.70 211.5,478.62 212.0,476.75 212.5,474.35 213.0,471.89 213.5,469.31 214.0,466.59 214.5,463.64 215.0,460.38 215.5,457.11 216.0,453.60 216.5,449.92 217.0,446.27 217.5,442.46 218.0,438.56 218.5,434.95 219.0,431.13 219.5,427.77 220.0,424.48 220.5,421.63 221.0,419.17 221.5,417.23 222.0,415.58 222.5,414.58 223.0,414.08 223.5,413.76 224.0,413.99 224.5,414.53 225.0,415.23 225.5,416.30 226.0,417.44 226.5,418.91 227.0,420.45 227.5,422.17 228.0,424.30 228.5,426.42 229.0,428.85 229.5,431.48 230.0,434.39 230.5,437.46 231.0,440.68 231.5,444.02 232.0,447.22 232.5,450.62 233.0,454.02 233.5,457.20 234.0,460.34 234.5,463.42 235.0,466.21 235.5,468.93 236.0,471.46 236.5,473.97 237.0,476.17 237.5,478.16 238.0,480.18 238.5,481.88 239.0,483.69 239.5,485.20 240.0,486.58 240.5,487.88 241.0,489.00 241.5,490.27 242.0,491.24 242.5,492.17 243.0,493.10 243.5,493.82 244.0,494.56 244.5,495.23 245.0,495.82 245.5,496.62 246.0,497.00 246.5,497.49 247.0,498.03 247.5,498.21 248.0,498.80 248.5,499.18 249.0,499.47 249.5,499.88 250.0,500.04 250.5,500.45 251.0,500.77 251.5,500.84 252.0,501.13 252.5,501.44 253.0,501.66 253.5,501.83 254.0,502.09 254.5,502.27 255.0,502.35 255.5,502.59 256.0,502.68 256.5,502.79 257.0,502.92 257.5,503.26 258.0,503.33 258.5,503.58 259.0,503.50 259.5,503.68 260.0,503.84 260.5,503.92 261.0,504.06 261.5,504.14 262.0,504.19 262.5,504.18 263.0,504.36 263.5,504.60 264.0,504.63 264.5,504.75 265.0,504.70 265.5,504.80 266.0,504.83 266.5,504.98 267.0,505.03 267.5,505.11 268.0,505.26 268.5,505.16 269.0,505.31 269.5,505.24 270.0,505.45 270.5,505.41 271.0,505.48 271.5,505.54 272.0,505.68 272.5,505.63 273.0,505.64 273.5,505.65 274.0,505.78 274.5,505.75 275.0,505.81 275.5,505.88 276.0,505.96 276.5,505.91 277.0,506.03 277.5,506.13 278.0,505.97 278.5,506.17 279.0,506.25 279.5,506.12 280.0,506.22 280.5,506.13 281.0,506.27 281.5,506.25 282.0,506.32 282.5,506.27 283.0,506.30 283.5,506.35 284.0,506.36 284.5,506.39 285.0,506.44 285.5,506.41 286.0,506.49 286.5,506.55 287.0,506.40 287.5,506.57 288.0,506.53 288.5,506.53 289.0,506.54 289.5,506.59 290.0,506.61 290.5,506.69 291.0,506.62 291.5,506.77 292.0,506.68 292.5,506.78 293.0,506.82 293.5,506.70 294.0,506.86 294.5,506.94 295.0,506.80 295.5,506.87 296.0,506.85 296.5,506.87 297.0,506.87 297.5,506.87 298.0,506.95 298.5,506.98 299.0,506.94 299.5,507.04 300.0,507.03 300.5,507.02 301.0,506.94 301.5,507.11 302.0,507.09 302.5,506.89 303.0,506.97 303.5,507.02 304.0,507.11 304.5,507.14 305.0,507.06 305.5,507.10 306.0,507.14 306.5,507.03 307.0,507.15 307.5,507.11 308.0,507.14 308.5,507.14 309.0,507.08 309.5,507.10 310.0,507.17 310.5,507.19 311.0,507.17 311.5,507.26 312.0,507.18 312.5,507.14 313.0,507.20 313.5,507.21 314.0,507.22 314.5,507.31 315.0,507.28 315.5,507.32 316.0,507.30 316.5,507.26 317.0,507.34 317.5,507.27 318.0,507.30 318.5,507.24 319.0,507.31 319.5,507.29 320.0,507.34 320.5,507.43 321.0,507.47 321.5,507.39 322.0,507.34 322.5,507.39 323.0,507.36 323.5,507.32 324.0,507.36 324.5,507.35 325.0,507.34 325.5,507.46 326.0,507.35 326.5,507.36 327.0,507.44 327.5,507.36 328.0,507.33 328.5,507.36 329.0,507.44 329.5,507.44 330.0,507.44 330.5,507.40 331.0,507.38 331.5,507.49 332.0,507.35 332.5,507.43 333.0,507.37 333.5,507.43 334.0,507.45 334.5,507.54 335.0,507.30 335.5,507.55 336.0,507.42 336.5,507.50 337.0,507.53 337.5,507.44 338.0,507.49 338.5,507.53 339.0,507.49 339.5,507.46 340.0,507.52 340.5,507.52 341.0,507.42 341.5,507.60 342.0,507.53 342.5,507.38 343.0,507.48 343.5,507.64 344.0,507.63 344.5,507.55 345.0,507.44 345.5,507.53 346.0,507.61 346.5,507.58 347.0,507.53 347.5,507.51 348.0,507.61 348.5,507.55 349.0,507.59 349.5,507.60 350.0,507.67 350.5,507.59 351.0,507.59 351.5,507.47 352.0,507.65 352.5,507.64 353.0,507.59 353.5,507.46 354.0,507.56 354.5,507.60 355.0,507.73 355.5,507.64" fill="none" stroke="#000" stroke-width="1.9" stroke-linejoin="round"/>
<polyline points="62.5,604.55 63.0,604.52 63.5,604.58 64.0,604.62 64.5,604.67 65.0,604.60 65.5,604.56 66.0,604.55 66.5,604.64 67.0,604.69 67.5,604.61 68.0,604.52 68.5,604.53 69.0,604.68 69.5,604.60 70.0,604.48 70.5,604.58 71.0,604.51 71.5,604.54 72.0,604.55 72.5,604.54 73.0,604.61 73.5,604.57 74.0,604.54 74.5,604.60 75.0,604.62 75.5,604.47 76.0,604.55 76.5,604.51 77.0,604.56 77.5,604.49 78.0,604.57 78.5,604.56 79.0,604.54 79.5,604.50 80.0,604.53 80.5,604.49 81.0,604.47 81.5,604.57 82.0,604.49 82.5,604.62 83.0,604.59 83.5,604.43 84.0,604.56 84.5,604.48 85.0,604.54 85.5,604.54 86.0,604.42 86.5,604.52 87.0,604.52 87.5,604.59 88.0,604.46 88.5,604.57 89.0,604.46 89.5,604.51 90.0,604.47 90.5,604.61 91.0,604.55 91.5,604.66 92.0,604.55 92.5,604.57 93.0,604.56 93.5,604.47 94.0,604.50 94.5,604.59 95.0,604.48 95.5,604.51 96.0,604.50 96.5,604.53 97.0,604.47 97.5,604.48 98.0,604.51 98.5,604.49 99.0,604.43 99.5,604.54 100.0,604.40 100.5,604.41 101.0,604.40 101.5,604.53 102.0,604.45 102.5,604.41 103.0,604.40 103.5,604.49 104.0,604.40 104.5,604.38 105.0,604.49 105.5,604.38 106.0,604.43 106.5,604.45 107.0,604.42 107.5,604.44 108.0,604.52 108.5,604.40 109.0,604.36 109.5,604.32 110.0,604.41 110.5,604.40 111.0,604.44 111.5,604.39 112.0,604.38 112.5,604.37 113.0,604.38 113.5,604.41 114.0,604.38 114.5,604.40 115.0,604.51 115.5,604.42 116.0,604.29 116.5,604.49 117.0,604.40 117.5,604.32 118.0,604.42 118.5,604.37 119.0,604.32 119.5,604.32 120.0,604.29 120.5,604.35 121.0,604.41 121.5,604.32 122.0,604.36 122.5,604.44 123.0,604.25 123.5,604.34 124.0,604.30 124.5,604.25 125.0,604.25 125.5,604.30 126.0,604.32 126.5,604.26 127.0,604.29 127.5,604.33 128.0,604.30 128.5,604.33 129.0,604.30 129.5,604.29 130.0,604.37 130.5,604.29 131.0,604.25 131.5,604.28 132.0,604.18 132.5,604.21 133.0,604.27 133.5,604.25 134.0,604.30 134.5,604.20 135.0,604.11 135.5,604.31 136.0,604.25 136.5,604.11 137.0,604.25 137.5,604.16 138.0,604.04 138.5,604.12 139.0,604.11 139.5,604.23 140.0,604.08 140.5,604.10 141.0,604.09 141.5,604.08 142.0,604.04 142.5,604.10 143.0,604.14 143.5,604.10 144.0,604.00 144.5,603.98 145.0,604.04 145.5,603.99 146.0,603.98 146.5,603.91 147.0,604.12 147.5,604.04 148.0,603.92 148.5,604.02 149.0,604.04 149.5,603.80 150.0,603.90 150.5,603.90 151.0,603.95 151.5,603.89 152.0,603.87 152.5,603.87 153.0,603.97 153.5,603.98 154.0,603.80 154.5,603.77 155.0,603.97 155.5,603.74 156.0,603.75 156.5,603.77 157.0,603.78 157.5,603.80 158.0,603.74 158.5,603.65 159.0,603.72 159.5,603.69 160.0,603.77 160.5,603.64 161.0,603.54 161.5,603.54 162.0,603.67 162.5,603.53 163.0,603.42 163.5,603.49 164.0,603.50 164.5,603.55 165.0,603.40 165.5,603.48 166.0,603.46 166.5,603.35 167.0,603.36 167.5,603.45 168.0,603.42 168.5,603.35 169.0,603.29 169.5,603.31 170.0,603.21 170.5,603.18 171.0,603.11 171.5,603.13 172.0,603.09 172.5,603.23 173.0,603.02 173.5,603.08 174.0,603.05 174.5,602.92 175.0,602.97 175.5,602.73 176.0,602.83 176.5,602.83 177.0,602.60 177.5,602.63 178.0,602.72 178.5,602.60 179.0,602.50 179.5,602.50 180.0,602.44 180.5,602.47 181.0,602.40 181.5,602.30 182.0,602.23 182.5,602.21 183.0,602.23 183.5,602.11 184.0,602.07 184.5,601.95 185.0,601.82 185.5,601.78 186.0,601.79 186.5,601.69 187.0,601.55 187.5,601.43 188.0,601.45 188.5,601.34 189.0,601.25 189.5,601.16 190.0,601.10 190.5,601.00 191.0,600.93 191.5,600.82 192.0,600.73 192.5,600.59 193.0,600.39 193.5,600.28 194.0,600.18 194.5,600.00 195.0,599.90 195.5,599.79 196.0,599.51 196.5,599.29 197.0,599.29 197.5,599.04 198.0,598.88 198.5,598.56 199.0,598.53 199.5,598.24 200.0,597.95 200.5,597.69 201.0,597.45 201.5,597.15 202.0,596.84 202.5,596.47 203.0,596.27 203.5,595.82 204.0,595.43 204.5,595.01 205.0,594.41 205.5,594.09 206.0,593.51 206.5,592.94 207.0,592.34 207.5,591.60 208.0,590.98 208.5,590.09 209.0,589.22 209.5,588.28 210.0,587.32 210.5,586.25 211.0,584.96 211.5,583.60 212.0,582.34 212.5,580.68 213.0,579.16 213.5,577.29 214.0,575.32 214.5,573.26 215.0,571.10 215.5,568.76 216.0,566.16 216.5,563.55 217.0,560.78 217.5,557.65 218.0,554.46 218.5,551.21 219.0,547.81 219.5,544.39 220.0,540.87 220.5,537.29 221.0,533.88 221.5,530.25 222.0,527.02 222.5,524.10 223.0,521.16 223.5,518.56 224.0,516.32 224.5,514.54 225.0,512.99 225.5,511.89 226.0,511.11 226.5,510.84 227.0,510.79 227.5,511.09 228.0,511.65 228.5,512.52 229.0,513.57 229.5,514.94 230.0,516.34 230.5,518.18 231.0,520.32 231.5,522.46 232.0,525.00 232.5,527.69 233.0,530.58 233.5,533.58 234.0,536.60 234.5,539.89 235.0,543.15 235.5,546.34 236.0,549.64 236.5,552.75 237.0,555.80 237.5,558.88 238.0,561.70 238.5,564.37 239.0,566.92 239.5,569.37 240.0,571.66 240.5,573.79 241.0,575.81 241.5,577.66 242.0,579.44 242.5,581.06 243.0,582.55 243.5,583.87 244.0,585.15 244.5,586.40 245.0,587.45 245.5,588.46 246.0,589.24 246.5,590.08 247.0,591.05 247.5,591.78 248.0,592.51 248.5,593.09 249.0,593.63 249.5,594.15 250.0,594.55 250.5,595.15 251.0,595.48 251.5,595.94 252.0,596.29 252.5,596.63 253.0,596.99 253.5,597.21 254.0,597.50 254.5,597.74 255.0,598.02 255.5,598.38 256.0,598.48 256.5,598.78 257.0,598.96 257.5,599.15 258.0,599.34 258.5,599.40 259.0,599.65 259.5,599.88 260.0,599.89 260.5,600.08 261.0,600.18 261.5,600.37 262.0,600.41 262.5,600.69 263.0,600.69 263.5,600.73 264.0,601.04 264.5,601.10 265.0,601.17 265.5,601.26 266.0,601.30 266.5,601.40 267.0,601.54 267.5,601.63 268.0,601.71 268.5,601.75 269.0,601.78 269.5,601.87 270.0,602.01 270.5,602.10 271.0,602.06 271.5,602.11 272.0,602.28 272.5,602.30 273.0,602.36 273.5,602.29 274.0,602.40 274.5,602.44 275.0,602.54 275.5,602.47 276.0,602.69 276.5,602.68 277.0,602.73 277.5,602.68 278.0,602.79 278.5,602.91 279.0,602.78 279.5,602.93 280.0,602.99 280.5,602.94 281.0,603.07 281.5,603.03 282.0,603.16 282.5,603.15 283.0,603.16 283.5,603.30 284.0,603.26 284.5,603.32 285.0,603.19 285.5,603.25 286.0,603.37 286.5,603.40 287.0,603.37 287.5,603.44 288.0,603.36 288.5,603.46 289.0,603.40 289.5,603.51 290.0,603.48 290.5,603.50 291.0,603.56 291.5,603.68 292.0,603.53 292.5,603.58 293.0,603.70 293.5,603.63 294.0,603.78 294.5,603.70 295.0,603.71 295.5,603.75 296.0,603.85 296.5,603.80 297.0,603.80 297.5,603.80 298.0,603.71 298.5,603.77 299.0,603.92 299.5,603.90 300.0,603.89 300.5,603.92 301.0,603.86 301.5,603.93 302.0,603.86 302.5,603.95 303.0,603.90 303.5,603.94 304.0,604.00 304.5,603.96 305.0,604.03 305.5,604.03 306.0,604.04 306.5,604.10 307.0,603.95 307.5,603.95 308.0,604.09 308.5,604.12 309.0,604.20 309.5,604.13 310.0,604.15 310.5,604.05 311.0,604.16 311.5,604.17 312.0,604.07 312.5,604.09 313.0,604.15 313.5,604.18 314.0,603.99 314.5,604.18 315.0,604.20 315.5,604.18 316.0,604.22 316.5,604.24 317.0,604.16 317.5,604.25 318.0,604.22 318.5,604.18 319.0,604.26 319.5,604.34 320.0,604.17 320.5,604.17 321.0,604.18 321.5,604.40 322.0,604.27 322.5,604.29 323.0,604.25 323.5,604.25 324.0,604.19 324.5,604.33 325.0,604.34 325.5,604.21 326.0,604.27 326.5,604.30 327.0,604.35 327.5,604.37 328.0,604.43 328.5,604.45 329.0,604.43 329.5,604.46 330.0,604.31 330.5,604.35 331.0,604.46 331.5,604.41 332.0,604.40 332.5,604.29 333.0,604.30 333.5,604.46 334.0,604.44 334.5,604.41 335.0,604.40 335.5,604.33 336.0,604.46 336.5,604.50 337.0,604.54 337.5,604.45 338.0,604.44 338.5,604.39 339.0,604.54 339.5,604.57 340.0,604.43 340.5,604.49 341.0,604.48 341.5,604.45 342.0,604.34 342.5,604.47 343.0,604.53 343.5,604.41 344.0,604.45 344.5,604.31 345.0,604.58 345.5,604.54 346.0,604.52 346.5,604.50 347.0,604.48 347.5,604.52 348.0,604.51 348.5,604.52 349.0,604.53 349.5,604.54 350.0,604.63 350.5,604.46 351.0,604.56 351.5,604.51 352.0,604.48 352.5,604.41 353.0,604.59 353.5,604.50 354.0,604.52 354.5,604.59 355.0,604.50 355.5,604.57" fill="none" stroke="#484848" stroke-width="1.9" stroke-linejoin="round"/>
<polyline points="452.2,120.16 452.7,120.21 453.2,120.20 453.7,120.33 454.2,120.26 454.7,120.31 455.2,120.39 455.7,120.39 456.2,120.35 456.7,120.23 457.2,120.20 457.7,120.19 458.2,120.24 458.7,120.28 459.2,120.17 459.7,120.15 460.2,120.32 460.7,120.06 461.2,120.26 461.7,120.33 462.2,120.16 462.7,120.14 463.2,120.19 463.7,120.35 464.2,120.26 464.7,120.05 465.2,120.22 465.7,120.39 466.2,120.39 466.7,120.35 467.2,120.24 467.7,120.05 468.2,120.29 468.7,120.24 469.2,120.27 469.7,120.45 470.2,120.28 470.7,120.29 471.2,120.33 471.7,120.23 472.2,120.18 472.7,120.17 473.2,120.35 473.7,120.32 474.2,120.19 474.7,120.39 475.2,120.27 475.7,120.09 476.2,120.32 476.7,120.23 477.2,120.09 477.7,120.31 478.2,120.20 478.7,120.19 479.2,120.31 479.7,119.98 480.2,120.08 480.7,120.18 481.2,120.26 481.7,120.15 482.2,120.11 482.7,120.10 483.2,120.21 483.7,120.31 484.2,120.05 484.7,119.97 485.2,120.19 485.7,120.17 486.2,120.11 486.7,120.29 487.2,120.31 487.7,120.15 488.2,120.17 488.7,120.28 489.2,120.16 489.7,120.04 490.2,120.20 490.7,120.09 491.2,120.24 491.7,120.14 492.2,120.17 492.7,120.26 493.2,120.18 493.7,120.11 494.2,120.07 494.7,120.39 495.2,120.32 495.7,120.00 496.2,120.05 496.7,120.25 497.2,120.10 497.7,120.17 498.2,120.27 498.7,120.18 499.2,120.15 499.7,120.10 500.2,120.15 500.7,120.20 501.2,120.36 501.7,120.28 502.2,120.12 502.7,120.26 503.2,120.16 503.7,119.96 504.2,120.12 504.7,120.25 505.2,120.06 505.7,120.24 506.2,120.09 506.7,120.12 507.2,119.98 507.7,120.36 508.2,120.17 508.7,120.23 509.2,120.05 509.7,119.93 510.2,120.24 510.7,120.01 511.2,120.29 511.7,120.07 512.2,120.28 512.7,119.99 513.2,119.86 513.7,120.15 514.2,120.06 514.7,120.06 515.2,120.18 515.7,119.95 516.2,119.89 516.7,119.90 517.2,119.84 517.7,119.82 518.2,119.87 518.7,119.91 519.2,119.96 519.7,119.87 520.2,119.99 520.7,120.09 521.2,119.97 521.7,120.04 522.2,119.87 522.7,120.01 523.2,120.02 523.7,119.88 524.2,119.76 524.7,119.92 525.2,119.93 525.7,120.09 526.2,119.86 526.7,120.09 527.2,119.60 527.7,119.83 528.2,119.79 528.7,119.79 529.2,119.75 529.7,119.78 530.2,119.96 530.7,119.71 531.2,119.83 531.7,119.63 532.2,119.61 532.7,119.25 533.2,119.47 533.7,119.45 534.2,119.16 534.7,119.11 535.2,118.96 535.7,119.18 536.2,118.66 536.7,118.53 537.2,118.11 537.7,118.04 538.2,118.03 538.7,117.62 539.2,117.20 539.7,117.23 540.2,117.00 540.7,116.74 541.2,116.47 541.7,116.07 542.2,116.18 542.7,115.51 543.2,115.36 543.7,114.90 544.2,114.74 544.7,114.42 545.2,114.44 545.7,114.21 546.2,114.01 546.7,113.80 547.2,114.05 547.7,114.06 548.2,114.08 548.7,114.03 549.2,114.21 549.7,114.35 550.2,114.45 550.7,114.74 551.2,114.74 551.7,115.00 552.2,115.02 552.7,115.68 553.2,115.58 553.7,115.95 554.2,116.22 554.7,116.28 555.2,116.59 555.7,116.88 556.2,116.98 556.7,117.13 557.2,117.29 557.7,117.38 558.2,117.56 558.7,117.73 559.2,117.82 559.7,117.96 560.2,117.89 560.7,117.85 561.2,118.03 561.7,117.97 562.2,118.04 562.7,117.92 563.2,117.92 563.7,117.86 564.2,117.84 564.7,117.57 565.2,117.60 565.7,117.55 566.2,117.64 566.7,117.32 567.2,117.28 567.7,117.08 568.2,116.73 568.7,116.98 569.2,116.77 569.7,116.68 570.2,116.20 570.7,116.21 571.2,116.00 571.7,115.58 572.2,115.60 572.7,115.22 573.2,115.08 573.7,114.52 574.2,114.28 574.7,113.93 575.2,113.42 575.7,113.14 576.2,112.76 576.7,112.01 577.2,111.40 577.7,110.71 578.2,109.70 578.7,108.55 579.2,107.16 579.7,106.05 580.2,104.39 580.7,102.57 581.2,100.66 581.7,98.32 582.2,95.46 582.7,92.76 583.2,89.45 583.7,86.03 584.2,82.04 584.7,77.96 585.2,73.27 585.7,68.54 586.2,63.56 586.7,58.48 587.2,53.30 587.7,48.36 588.2,43.19 588.7,38.76 589.2,34.56 589.7,31.13 590.2,28.62 590.7,26.73 591.2,25.99 591.7,25.73 592.2,26.29 592.7,27.51 593.2,29.19 593.7,30.83 594.2,32.82 594.7,35.39 595.2,38.04 595.7,41.01 596.2,43.96 596.7,47.22 597.2,51.06 597.7,54.94 598.2,58.83 598.7,63.04 599.2,67.24 599.7,71.66 600.2,75.33 600.7,79.25 601.2,82.98 601.7,86.54 602.2,89.64 602.7,92.70 603.2,95.46 603.7,98.06 604.2,100.04 604.7,102.03 605.2,103.82 605.7,105.23 606.2,106.72 606.7,108.12 607.2,109.22 607.7,110.47 608.2,111.16 608.7,111.84 609.2,112.58 609.7,112.90 610.2,113.41 610.7,113.84 611.2,114.30 611.7,114.93 612.2,114.97 612.7,115.21 613.2,115.55 613.7,115.88 614.2,116.06 614.7,116.31 615.2,116.25 615.7,116.46 616.2,116.70 616.7,116.89 617.2,117.18 617.7,117.00 618.2,117.35 618.7,117.37 619.2,117.58 619.7,117.53 620.2,117.55 620.7,117.95 621.2,117.93 621.7,117.75 622.2,118.14 622.7,118.02 623.2,118.20 623.7,118.28 624.2,118.18 624.7,118.54 625.2,118.41 625.7,118.72 626.2,118.64 626.7,118.70 627.2,118.72 627.7,118.97 628.2,118.66 628.7,118.73 629.2,118.79 629.7,119.04 630.2,119.07 630.7,118.99 631.2,119.05 631.7,118.86 632.2,119.27 632.7,119.10 633.2,119.17 633.7,119.15 634.2,119.29 634.7,119.21 635.2,119.28 635.7,119.30 636.2,119.26 636.7,119.27 637.2,119.41 637.7,119.44 638.2,119.50 638.7,119.61 639.2,119.31 639.7,119.25 640.2,119.44 640.7,119.66 641.2,119.52 641.7,119.33 642.2,119.76 642.7,119.64 643.2,119.42 643.7,119.51 644.2,119.64 644.7,119.58 645.2,119.64 645.7,119.73 646.2,119.68 646.7,119.86 647.2,119.69 647.7,119.90 648.2,119.66 648.7,119.61 649.2,119.51 649.7,119.67 650.2,119.79 650.7,119.91 651.2,119.39 651.7,119.81 652.2,119.70 652.7,119.91 653.2,119.78 653.7,119.88 654.2,120.07 654.7,119.88 655.2,119.85 655.7,120.00 656.2,119.93 656.7,119.87 657.2,119.71 657.7,119.87 658.2,119.72 658.7,119.95 659.2,120.00 659.7,119.95 660.2,120.17 660.7,119.82 661.2,120.01 661.7,119.97 662.2,119.83 662.7,120.04 663.2,120.08 663.7,120.13 664.2,119.98 664.7,120.08 665.2,119.93 665.7,120.19 666.2,120.23 666.7,120.04 667.2,120.06 667.7,119.91 668.2,120.04 668.7,120.00 669.2,120.08 669.7,119.89 670.2,120.27 670.7,120.09 671.2,120.20 671.7,120.13 672.2,120.04 672.7,120.31 673.2,120.22 673.7,119.91 674.2,120.09 674.7,120.07 675.2,120.00 675.7,120.36 676.2,119.96 676.7,120.29 677.2,119.91 677.7,120.28 678.2,120.06 678.7,119.86 679.2,120.16 679.7,120.19 680.2,120.02 680.7,120.27 681.2,119.94 681.7,120.28 682.2,120.22 682.7,120.36 683.2,120.10 683.7,120.26 684.2,120.09 684.7,120.26 685.2,120.19 685.7,120.26 686.2,120.01 686.7,120.23 687.2,120.22 687.7,120.36 688.2,120.14 688.7,120.16 689.2,120.26 689.7,120.25 690.2,119.89 690.7,120.16 691.2,120.29 691.7,120.15 692.2,119.97 692.7,120.16 693.2,120.20 693.7,120.09 694.2,120.21 694.7,120.07 695.2,120.18 695.7,120.22 696.2,120.42 696.7,120.25 697.2,120.36 697.7,120.24 698.2,120.08 698.7,120.08 699.2,120.31 699.7,120.03 700.2,120.03 700.7,120.33 701.2,120.13 701.7,120.09 702.2,120.43 702.7,120.13 703.2,120.30 703.7,120.23 704.2,120.25 704.7,120.24 705.2,120.36 705.7,120.42 706.2,120.13 706.7,120.42 707.2,120.22 707.7,120.22 708.2,120.33 708.7,120.18 709.2,120.14 709.7,120.43 710.2,120.18 710.7,120.00 711.2,119.86 711.7,120.29 712.2,120.24 712.7,120.46 713.2,120.12 713.7,120.11 714.2,120.26 714.7,120.42 715.2,120.43 715.7,120.27 716.2,120.19 716.7,120.28 717.2,120.45 717.7,120.26 718.2,120.22 718.7,120.32 719.2,120.30 719.7,120.29 720.2,120.52 720.7,120.35 721.2,120.29 721.7,120.24 722.2,120.25 722.7,120.34 723.2,120.37 723.7,120.21 724.2,120.22 724.7,120.25 725.2,120.17 725.7,120.42 726.2,120.18 726.7,120.31 727.2,120.41 727.7,120.17 728.2,120.19 728.7,120.27 729.2,120.35 729.7,120.31 730.2,120.30 730.7,120.44 731.2,120.23 731.7,120.21 732.2,120.37 732.7,120.31 733.2,120.41 733.7,120.43 734.2,120.17 734.7,120.05 735.2,120.37 735.7,120.30 736.2,120.34 736.7,120.20 737.2,120.40 737.7,120.28 738.2,120.37 738.7,120.41 739.2,120.32 739.7,120.30 740.2,120.23 740.7,120.63 741.2,120.15 741.7,120.39 742.2,120.13 742.7,120.21 743.2,120.48 743.7,120.22 744.2,120.44 744.7,120.27 745.2,120.42 745.7,120.15" fill="none" stroke="#000" stroke-width="1.9" stroke-linejoin="round"/>
<polyline points="452.2,217.43 452.7,217.59 453.2,217.57 453.7,217.36 454.2,217.39 454.7,217.36 455.2,217.49 455.7,217.41 456.2,217.51 456.7,217.20 457.2,217.60 457.7,217.40 458.2,217.50 458.7,217.40 459.2,217.37 459.7,217.47 460.2,217.51 460.7,217.38 461.2,217.39 461.7,217.49 462.2,217.30 462.7,217.22 463.2,217.45 463.7,217.32 464.2,217.17 464.7,217.30 465.2,217.34 465.7,217.25 466.2,217.21 466.7,217.39 467.2,217.49 467.7,217.36 468.2,217.29 468.7,217.43 469.2,217.47 469.7,217.34 470.2,217.44 470.7,217.50 471.2,217.35 471.7,217.27 472.2,217.41 472.7,217.40 473.2,217.50 473.7,217.21 474.2,217.28 474.7,217.26 475.2,217.15 475.7,217.37 476.2,217.42 476.7,217.26 477.2,217.52 477.7,217.45 478.2,217.42 478.7,217.39 479.2,217.46 479.7,217.18 480.2,217.41 480.7,217.41 481.2,217.12 481.7,217.37 482.2,217.30 482.7,217.42 483.2,217.27 483.7,217.32 484.2,217.36 484.7,217.21 485.2,217.38 485.7,217.30 486.2,217.37 486.7,217.24 487.2,217.43 487.7,217.37 488.2,217.28 488.7,217.37 489.2,217.44 489.7,217.50 490.2,217.10 490.7,217.39 491.2,217.34 491.7,217.27 492.2,217.15 492.7,217.42 493.2,217.12 493.7,217.33 494.2,217.42 494.7,217.07 495.2,217.22 495.7,217.09 496.2,217.28 496.7,217.43 497.2,217.48 497.7,217.02 498.2,217.16 498.7,217.31 499.2,217.42 499.7,217.27 500.2,217.13 500.7,217.25 501.2,217.21 501.7,217.18 502.2,217.11 502.7,217.24 503.2,217.23 503.7,217.18 504.2,217.16 504.7,217.03 505.2,217.12 505.7,217.32 506.2,217.14 506.7,216.99 507.2,217.32 507.7,217.21 508.2,217.40 508.7,217.15 509.2,217.08 509.7,216.96 510.2,217.28 510.7,217.43 511.2,217.01 511.7,217.03 512.2,217.17 512.7,217.00 513.2,217.06 513.7,217.04 514.2,217.10 514.7,217.20 515.2,217.06 515.7,217.16 516.2,216.99 516.7,217.08 517.2,216.77 517.7,216.84 518.2,217.10 518.7,216.93 519.2,217.06 519.7,217.04 520.2,217.12 520.7,217.05 521.2,217.06 521.7,216.90 522.2,216.82 522.7,216.79 523.2,216.80 523.7,216.70 524.2,216.75 524.7,216.78 525.2,216.79 525.7,216.68 526.2,216.46 526.7,216.64 527.2,216.64 527.7,216.69 528.2,216.58 528.7,216.38 529.2,216.31 529.7,216.58 530.2,216.36 530.7,216.42 531.2,216.37 531.7,215.93 532.2,215.99 532.7,215.90 533.2,215.81 533.7,215.70 534.2,215.54 534.7,215.42 535.2,215.09 535.7,215.12 536.2,214.92 536.7,214.88 537.2,214.66 537.7,214.64 538.2,214.51 538.7,214.30 539.2,214.14 539.7,213.95 540.2,213.73 540.7,213.60 541.2,213.40 541.7,213.35 542.2,213.15 542.7,213.07 543.2,212.69 543.7,212.82 544.2,212.48 544.7,212.36 545.2,212.31 545.7,212.15 546.2,212.16 546.7,211.96 547.2,211.82 547.7,211.78 548.2,211.99 548.7,211.79 549.2,211.61 549.7,211.73 550.2,211.53 550.7,211.94 551.2,211.55 551.7,211.82 552.2,211.86 552.7,211.66 553.2,211.92 553.7,212.06 554.2,212.06 554.7,212.11 555.2,212.27 555.7,212.25 556.2,212.36 556.7,212.39 557.2,212.56 557.7,212.46 558.2,212.75 558.7,212.68 559.2,212.69 559.7,212.93 560.2,213.16 560.7,213.14 561.2,213.02 561.7,213.21 562.2,213.12 562.7,213.19 563.2,213.24 563.7,212.97 564.2,213.28 564.7,213.13 565.2,213.16 565.7,213.04 566.2,213.00 566.7,213.02 567.2,213.18 567.7,213.21 568.2,212.93 568.7,212.97 569.2,212.71 569.7,212.39 570.2,212.51 570.7,212.40 571.2,212.14 571.7,212.06 572.2,211.91 572.7,211.54 573.2,211.25 573.7,211.16 574.2,210.91 574.7,210.62 575.2,210.48 575.7,210.25 576.2,209.65 576.7,209.41 577.2,209.03 577.7,208.56 578.2,208.11 578.7,207.41 579.2,206.96 579.7,206.47 580.2,205.62 580.7,204.66 581.2,203.94 581.7,203.06 582.2,201.88 582.7,200.58 583.2,199.52 583.7,197.72 584.2,196.31 584.7,194.45 585.2,192.33 585.7,190.44 586.2,187.93 586.7,185.12 587.2,182.47 587.7,179.24 588.2,175.70 588.7,172.24 589.2,168.50 589.7,164.47 590.2,160.15 590.7,155.71 591.2,151.24 591.7,146.62 592.2,142.32 592.7,137.94 593.2,134.02 593.7,130.56 594.2,127.46 594.7,125.24 595.2,123.97 595.7,123.01 596.2,122.79 596.7,123.32 597.2,124.17 597.7,125.59 598.2,127.10 598.7,129.03 599.2,130.78 599.7,133.23 600.2,135.24 600.7,137.48 601.2,140.19 601.7,142.91 602.2,145.93 602.7,148.93 603.2,152.46 603.7,156.34 604.2,159.33 604.7,163.13 605.2,166.63 605.7,170.20 606.2,173.34 606.7,176.65 607.2,179.90 607.7,182.71 608.2,185.58 608.7,187.79 609.2,190.18 609.7,192.62 610.2,194.11 610.7,195.86 611.2,197.57 611.7,199.03 612.2,200.47 612.7,201.59 613.2,202.58 613.7,203.69 614.2,204.88 614.7,205.53 615.2,205.78 615.7,206.77 616.2,207.30 616.7,208.03 617.2,208.45 617.7,209.17 618.2,209.48 618.7,209.87 619.2,210.15 619.7,210.46 620.2,210.82 620.7,211.22 621.2,211.40 621.7,211.55 622.2,211.99 622.7,212.08 623.2,212.26 623.7,212.37 624.2,212.59 624.7,212.75 625.2,212.66 625.7,213.28 626.2,213.38 626.7,213.43 627.2,213.71 627.7,213.77 628.2,213.89 628.7,213.66 629.2,214.04 629.7,214.24 630.2,214.48 630.7,214.60 631.2,214.65 631.7,214.42 632.2,214.39 632.7,214.80 633.2,214.81 633.7,215.00 634.2,214.94 634.7,215.06 635.2,214.92 635.7,215.21 636.2,215.17 636.7,215.32 637.2,215.39 637.7,215.38 638.2,215.49 638.7,215.50 639.2,215.64 639.7,215.66 640.2,215.58 640.7,215.62 641.2,215.94 641.7,215.76 642.2,215.93 642.7,215.90 643.2,215.82 643.7,215.84 644.2,215.98 644.7,216.03 645.2,216.10 645.7,215.91 646.2,216.02 646.7,216.11 647.2,216.34 647.7,215.90 648.2,216.26 648.7,216.17 649.2,216.31 649.7,216.23 650.2,216.36 650.7,216.52 651.2,216.40 651.7,216.43 652.2,216.45 652.7,216.34 653.2,216.51 653.7,216.44 654.2,216.39 654.7,216.50 655.2,216.50 655.7,216.63 656.2,216.56 656.7,216.51 657.2,216.77 657.7,216.73 658.2,216.78 658.7,216.72 659.2,216.65 659.7,216.62 660.2,216.65 660.7,216.82 661.2,216.73 661.7,216.55 662.2,216.74 662.7,216.59 663.2,216.79 663.7,216.64 664.2,216.64 664.7,216.82 665.2,216.81 665.7,216.63 666.2,216.93 666.7,217.11 667.2,216.68 667.7,217.09 668.2,216.80 668.7,216.83 669.2,216.88 669.7,216.74 670.2,217.08 670.7,216.99 671.2,216.85 671.7,216.91 672.2,216.77 672.7,216.92 673.2,217.09 673.7,216.78 674.2,216.94 674.7,217.02 675.2,217.13 675.7,217.17 676.2,216.97 676.7,216.94 677.2,217.09 677.7,217.00 678.2,217.01 678.7,217.19 679.2,217.26 679.7,217.10 680.2,217.05 680.7,217.15 681.2,216.86 681.7,217.09 682.2,216.97 682.7,217.39 683.2,217.20 683.7,217.13 684.2,217.10 684.7,216.83 685.2,217.22 685.7,217.33 686.2,217.06 686.7,217.23 687.2,217.24 687.7,216.97 688.2,217.28 688.7,217.33 689.2,217.20 689.7,217.17 690.2,217.28 690.7,217.00 691.2,217.20 691.7,217.32 692.2,217.05 692.7,217.32 693.2,217.16 693.7,216.96 694.2,217.20 694.7,217.10 695.2,217.26 695.7,217.09 696.2,217.36 696.7,217.15 697.2,217.28 697.7,217.17 698.2,217.21 698.7,217.39 699.2,217.28 699.7,217.21 700.2,217.11 700.7,217.40 701.2,217.35 701.7,217.23 702.2,217.30 702.7,217.15 703.2,217.16 703.7,217.18 704.2,217.33 704.7,217.32 705.2,217.20 705.7,217.38 706.2,217.39 706.7,217.32 707.2,217.43 707.7,217.27 708.2,217.29 708.7,217.37 709.2,217.31 709.7,217.41 710.2,217.17 710.7,217.49 711.2,217.23 711.7,217.30 712.2,217.16 712.7,217.40 713.2,217.48 713.7,217.46 714.2,217.44 714.7,217.15 715.2,217.25 715.7,217.29 716.2,217.23 716.7,217.48 717.2,217.37 717.7,217.35 718.2,217.41 718.7,217.24 719.2,217.25 719.7,217.25 720.2,217.42 720.7,217.40 721.2,217.43 721.7,217.50 722.2,217.21 722.7,217.30 723.2,217.39 723.7,217.21 724.2,217.31 724.7,217.50 725.2,217.51 725.7,217.51 726.2,217.39 726.7,217.36 727.2,217.52 727.7,217.34 728.2,217.43 728.7,217.55 729.2,217.35 729.7,217.32 730.2,217.39 730.7,217.47 731.2,217.46 731.7,217.42 732.2,217.47 732.7,217.21 733.2,217.30 733.7,217.43 734.2,217.30 734.7,217.25 735.2,217.27 735.7,217.30 736.2,217.39 736.7,217.29 737.2,217.44 737.7,217.62 738.2,217.40 738.7,217.57 739.2,217.46 739.7,217.29 740.2,217.39 740.7,217.31 741.2,217.52 741.7,217.29 742.2,217.59 742.7,217.50 743.2,217.19 743.7,217.53 744.2,217.62 744.7,217.34 745.2,217.55 745.7,217.22" fill="none" stroke="#000" stroke-width="1.9" stroke-linejoin="round"/>
<polyline points="452.2,310.90 452.7,311.02 453.2,310.98 453.7,310.98 454.2,311.08 454.7,310.74 455.2,310.80 455.7,310.71 456.2,310.86 456.7,310.98 457.2,310.86 457.7,310.91 458.2,310.62 458.7,310.86 459.2,310.73 459.7,311.05 460.2,310.93 460.7,310.94 461.2,310.81 461.7,310.89 462.2,310.89 462.7,310.76 463.2,310.74 463.7,310.78 464.2,310.71 464.7,310.71 465.2,310.74 465.7,310.68 466.2,310.85 466.7,310.56 467.2,310.85 467.7,310.67 468.2,310.67 468.7,310.57 469.2,310.71 469.7,310.69 470.2,310.73 470.7,310.64 471.2,310.71 471.7,310.91 472.2,310.73 472.7,310.61 473.2,310.78 473.7,310.64 474.2,310.72 474.7,310.72 475.2,310.59 475.7,310.40 476.2,310.58 476.7,310.68 477.2,310.56 477.7,310.65 478.2,310.71 478.7,310.51 479.2,310.72 479.7,310.76 480.2,310.68 480.7,310.68 481.2,310.67 481.7,310.80 482.2,310.54 482.7,310.51 483.2,310.57 483.7,310.38 484.2,310.29 484.7,310.36 485.2,310.50 485.7,310.50 486.2,310.25 486.7,310.20 487.2,310.38 487.7,310.38 488.2,310.39 488.7,310.46 489.2,310.52 489.7,310.39 490.2,310.42 490.7,310.20 491.2,310.18 491.7,310.34 492.2,310.38 492.7,310.37 493.2,310.34 493.7,310.35 494.2,310.34 494.7,310.02 495.2,310.13 495.7,310.26 496.2,310.26 496.7,310.00 497.2,310.30 497.7,310.10 498.2,310.11 498.7,310.15 499.2,310.19 499.7,309.92 500.2,310.19 500.7,310.06 501.2,309.95 501.7,309.99 502.2,309.74 502.7,309.91 503.2,309.99 503.7,309.87 504.2,309.90 504.7,309.90 505.2,309.90 505.7,310.00 506.2,309.86 506.7,309.81 507.2,309.89 507.7,310.05 508.2,309.74 508.7,309.82 509.2,309.55 509.7,309.88 510.2,309.77 510.7,309.83 511.2,309.64 511.7,309.50 512.2,309.71 512.7,309.67 513.2,309.45 513.7,309.35 514.2,309.56 514.7,309.46 515.2,309.77 515.7,309.35 516.2,309.34 516.7,309.36 517.2,309.15 517.7,309.21 518.2,309.49 518.7,309.24 519.2,309.16 519.7,309.05 520.2,309.24 520.7,309.22 521.2,309.13 521.7,309.02 522.2,309.07 522.7,309.05 523.2,308.89 523.7,309.01 524.2,308.64 524.7,308.71 525.2,308.79 525.7,308.77 526.2,308.61 526.7,308.75 527.2,308.79 527.7,308.68 528.2,308.61 528.7,308.64 529.2,308.54 529.7,308.31 530.2,308.38 530.7,308.51 531.2,308.17 531.7,308.27 532.2,308.17 532.7,308.05 533.2,307.99 533.7,308.07 534.2,308.04 534.7,307.99 535.2,307.72 535.7,307.80 536.2,307.82 536.7,307.83 537.2,307.74 537.7,307.69 538.2,307.66 538.7,307.56 539.2,307.30 539.7,307.33 540.2,307.17 540.7,306.90 541.2,306.91 541.7,307.29 542.2,306.82 542.7,306.61 543.2,306.73 543.7,306.90 544.2,306.63 544.7,306.59 545.2,306.42 545.7,306.35 546.2,306.42 546.7,306.27 547.2,306.06 547.7,306.08 548.2,306.00 548.7,305.74 549.2,305.69 549.7,305.57 550.2,305.35 550.7,305.45 551.2,305.17 551.7,304.99 552.2,304.73 552.7,304.65 553.2,304.85 553.7,304.39 554.2,304.44 554.7,304.19 555.2,304.15 555.7,304.00 556.2,303.68 556.7,303.57 557.2,303.45 557.7,303.27 558.2,303.08 558.7,302.86 559.2,302.78 559.7,302.66 560.2,302.37 560.7,302.00 561.2,301.92 561.7,301.66 562.2,301.47 562.7,301.40 563.2,300.91 563.7,300.68 564.2,300.31 564.7,300.11 565.2,299.79 565.7,299.76 566.2,299.30 566.7,298.89 567.2,298.86 567.7,298.14 568.2,298.05 568.7,297.71 569.2,297.29 569.7,296.80 570.2,296.42 570.7,295.97 571.2,295.68 571.7,294.86 572.2,294.61 572.7,294.21 573.2,293.62 573.7,292.95 574.2,292.59 574.7,291.97 575.2,291.57 575.7,291.03 576.2,290.23 576.7,289.33 577.2,288.85 577.7,288.05 578.2,287.49 578.7,286.84 579.2,285.86 579.7,285.22 580.2,284.28 580.7,283.27 581.2,282.12 581.7,281.26 582.2,280.03 582.7,279.25 583.2,278.01 583.7,276.99 584.2,275.64 584.7,274.10 585.2,273.09 585.7,271.75 586.2,270.40 586.7,268.60 587.2,267.07 587.7,265.59 588.2,263.81 588.7,262.06 589.2,260.34 589.7,258.97 590.2,256.72 590.7,254.76 591.2,252.87 591.7,250.93 592.2,249.06 592.7,246.97 593.2,244.88 593.7,242.71 594.2,240.65 594.7,238.49 595.2,236.35 595.7,234.78 596.2,232.54 596.7,230.85 597.2,228.91 597.7,227.25 598.2,225.69 598.7,224.12 599.2,223.00 599.7,221.95 600.2,221.07 600.7,220.29 601.2,219.81 601.7,219.38 602.2,219.21 602.7,219.05 603.2,219.51 603.7,220.26 604.2,220.78 604.7,221.74 605.2,222.69 605.7,223.87 606.2,225.58 606.7,226.91 607.2,228.69 607.7,230.34 608.2,232.09 608.7,233.78 609.2,236.05 609.7,237.88 610.2,239.86 610.7,242.35 611.2,244.37 611.7,246.43 612.2,248.42 612.7,250.45 613.2,252.51 613.7,254.44 614.2,256.36 614.7,258.32 615.2,259.76 615.7,261.94 616.2,263.48 616.7,265.33 617.2,266.98 617.7,268.29 618.2,269.99 618.7,271.43 619.2,272.65 619.7,274.01 620.2,275.37 620.7,276.33 621.2,277.73 621.7,278.94 622.2,279.96 622.7,280.88 623.2,282.03 623.7,283.23 624.2,284.14 624.7,284.86 625.2,285.63 625.7,286.55 626.2,287.34 626.7,288.01 627.2,288.78 627.7,289.59 628.2,290.30 628.7,290.54 629.2,291.57 629.7,292.07 630.2,292.76 630.7,293.17 631.2,293.76 631.7,294.41 632.2,294.35 632.7,295.37 633.2,295.65 633.7,295.85 634.2,296.17 634.7,296.94 635.2,297.17 635.7,297.79 636.2,298.06 636.7,298.37 637.2,298.85 637.7,299.08 638.2,299.46 638.7,299.78 639.2,300.02 639.7,300.36 640.2,300.64 640.7,300.65 641.2,301.04 641.7,301.31 642.2,301.52 642.7,301.61 643.2,301.96 643.7,302.29 644.2,302.49 644.7,302.86 645.2,302.80 645.7,303.02 646.2,303.19 646.7,303.41 647.2,303.55 647.7,303.58 648.2,304.01 648.7,304.25 649.2,304.43 649.7,304.32 650.2,304.58 650.7,304.97 651.2,304.88 651.7,305.07 652.2,305.15 652.7,305.42 653.2,305.54 653.7,305.83 654.2,305.73 654.7,305.84 655.2,305.76 655.7,305.97 656.2,306.04 656.7,306.19 657.2,306.18 657.7,306.59 658.2,306.41 658.7,306.67 659.2,306.58 659.7,306.86 660.2,307.11 660.7,306.90 661.2,307.13 661.7,307.16 662.2,307.29 662.7,307.38 663.2,307.34 663.7,307.47 664.2,307.49 664.7,307.54 665.2,307.56 665.7,307.90 666.2,307.76 666.7,308.00 667.2,308.05 667.7,307.93 668.2,308.23 668.7,308.07 669.2,308.31 669.7,308.46 670.2,308.26 670.7,308.29 671.2,308.35 671.7,308.79 672.2,308.52 672.7,308.47 673.2,308.77 673.7,308.70 674.2,308.77 674.7,308.70 675.2,308.60 675.7,308.83 676.2,308.83 676.7,308.81 677.2,308.92 677.7,308.98 678.2,309.23 678.7,309.26 679.2,309.28 679.7,309.19 680.2,309.15 680.7,309.37 681.2,309.43 681.7,309.53 682.2,309.45 682.7,309.47 683.2,309.56 683.7,309.44 684.2,309.49 684.7,309.70 685.2,309.51 685.7,309.68 686.2,309.82 686.7,309.78 687.2,309.84 687.7,309.68 688.2,309.83 688.7,309.84 689.2,309.98 689.7,309.98 690.2,309.97 690.7,310.22 691.2,310.08 691.7,310.01 692.2,310.00 692.7,310.09 693.2,310.06 693.7,310.35 694.2,310.24 694.7,310.16 695.2,310.15 695.7,310.12 696.2,310.24 696.7,310.45 697.2,310.42 697.7,310.34 698.2,310.38 698.7,310.16 699.2,310.50 699.7,310.40 700.2,310.62 700.7,310.45 701.2,310.43 701.7,310.54 702.2,310.46 702.7,310.71 703.2,310.61 703.7,310.63 704.2,310.65 704.7,310.59 705.2,310.70 705.7,310.69 706.2,310.89 706.7,310.71 707.2,310.76 707.7,310.68 708.2,310.71 708.7,310.73 709.2,310.94 709.7,310.81 710.2,310.94 710.7,310.81 711.2,310.81 711.7,310.64 712.2,310.98 712.7,311.15 713.2,310.89 713.7,311.10 714.2,311.05 714.7,310.88 715.2,311.07 715.7,310.88 716.2,310.97 716.7,311.16 717.2,311.05 717.7,310.90 718.2,311.23 718.7,310.94 719.2,311.06 719.7,311.05 720.2,311.09 720.7,311.02 721.2,310.94 721.7,311.37 722.2,311.04 722.7,311.06 723.2,310.89 723.7,311.20 724.2,311.36 724.7,311.38 725.2,311.56 725.7,311.42 726.2,311.30 726.7,311.27 727.2,311.45 727.7,311.28 728.2,311.32 728.7,311.19 729.2,311.33 729.7,311.56 730.2,311.33 730.7,311.39 731.2,311.07 731.7,311.53 732.2,311.42 732.7,311.56 733.2,311.42 733.7,311.30 734.2,311.25 734.7,311.48 735.2,311.43 735.7,311.32 736.2,311.44 736.7,311.38 737.2,311.55 737.7,311.42 738.2,311.33 738.7,311.48 739.2,311.43 739.7,311.68 740.2,311.46 740.7,311.36 741.2,311.52 741.7,311.50 742.2,311.57 742.7,311.58 743.2,311.43 743.7,311.56 744.2,311.56 744.7,311.44 745.2,311.52 745.7,311.62" fill="none" stroke="#000" stroke-width="1.9" stroke-linejoin="round"/>
<polyline points="452.2,407.10 452.7,406.50 453.2,406.98 453.7,406.87 454.2,407.01 454.7,406.90 455.2,407.07 455.7,406.84 456.2,406.77 456.7,406.90 457.2,406.88 457.7,406.78 458.2,406.78 458.7,406.89 459.2,406.89 459.7,406.74 460.2,406.75 460.7,406.57 461.2,406.98 461.7,406.74 462.2,406.93 462.7,406.81 463.2,406.99 463.7,406.93 464.2,406.78 464.7,406.91 465.2,406.61 465.7,406.87 466.2,406.54 466.7,406.75 467.2,406.83 467.7,406.72 468.2,406.64 468.7,406.58 469.2,406.63 469.7,406.79 470.2,406.76 470.7,406.62 471.2,406.49 471.7,406.71 472.2,406.45 472.7,406.55 473.2,406.52 473.7,406.69 474.2,406.62 474.7,406.64 475.2,406.61 475.7,406.48 476.2,406.62 476.7,406.72 477.2,406.53 477.7,406.61 478.2,406.51 478.7,406.63 479.2,406.58 479.7,406.60 480.2,406.52 480.7,406.67 481.2,406.42 481.7,406.41 482.2,406.37 482.7,406.50 483.2,406.35 483.7,406.33 484.2,406.49 484.7,406.53 485.2,406.45 485.7,406.04 486.2,406.24 486.7,406.21 487.2,406.19 487.7,406.27 488.2,406.53 488.7,406.26 489.2,406.20 489.7,406.35 490.2,406.27 490.7,406.26 491.2,406.15 491.7,406.22 492.2,406.26 492.7,405.96 493.2,405.99 493.7,406.29 494.2,406.25 494.7,406.08 495.2,406.00 495.7,406.08 496.2,405.95 496.7,406.04 497.2,406.26 497.7,406.06 498.2,406.17 498.7,405.99 499.2,406.04 499.7,406.15 500.2,405.80 500.7,405.91 501.2,405.91 501.7,405.95 502.2,406.08 502.7,405.96 503.2,405.68 503.7,405.81 504.2,405.71 504.7,405.69 505.2,406.03 505.7,405.64 506.2,405.77 506.7,405.64 507.2,405.81 507.7,405.72 508.2,405.67 508.7,405.63 509.2,405.75 509.7,405.48 510.2,405.48 510.7,405.41 511.2,405.69 511.7,405.47 512.2,405.35 512.7,405.40 513.2,405.73 513.7,405.39 514.2,405.48 514.7,405.41 515.2,405.32 515.7,405.22 516.2,405.23 516.7,405.20 517.2,404.95 517.7,405.50 518.2,405.27 518.7,405.14 519.2,405.07 519.7,404.97 520.2,405.15 520.7,404.98 521.2,405.03 521.7,404.77 522.2,404.95 522.7,405.11 523.2,404.80 523.7,404.90 524.2,404.77 524.7,404.86 525.2,404.82 525.7,404.66 526.2,404.55 526.7,404.61 527.2,404.54 527.7,404.42 528.2,404.51 528.7,404.47 529.2,404.27 529.7,404.32 530.2,404.64 530.7,404.34 531.2,404.21 531.7,404.45 532.2,404.05 532.7,403.75 533.2,403.77 533.7,403.77 534.2,403.93 534.7,403.96 535.2,403.53 535.7,403.87 536.2,403.54 536.7,403.66 537.2,403.62 537.7,403.56 538.2,403.45 538.7,403.41 539.2,403.19 539.7,403.30 540.2,403.31 540.7,403.24 541.2,403.38 541.7,403.12 542.2,403.01 542.7,403.05 543.2,402.80 543.7,402.54 544.2,402.35 544.7,402.70 545.2,402.53 545.7,402.48 546.2,402.26 546.7,402.25 547.2,402.35 547.7,402.07 548.2,401.80 548.7,401.79 549.2,401.91 549.7,401.52 550.2,401.24 550.7,401.17 551.2,401.18 551.7,401.33 552.2,401.13 552.7,400.91 553.2,400.73 553.7,400.75 554.2,400.63 554.7,400.45 555.2,400.36 555.7,400.17 556.2,400.34 556.7,399.70 557.2,399.86 557.7,399.57 558.2,399.63 558.7,399.36 559.2,399.28 559.7,399.13 560.2,398.93 560.7,398.85 561.2,398.39 561.7,398.48 562.2,398.16 562.7,398.04 563.2,397.98 563.7,397.72 564.2,397.62 564.7,396.89 565.2,396.82 565.7,396.83 566.2,396.34 566.7,396.21 567.2,396.18 567.7,395.82 568.2,395.34 568.7,395.23 569.2,394.97 569.7,394.60 570.2,394.28 570.7,393.99 571.2,393.47 571.7,393.33 572.2,392.85 572.7,392.66 573.2,392.29 573.7,391.75 574.2,391.53 574.7,391.09 575.2,390.62 575.7,390.27 576.2,389.69 576.7,389.22 577.2,388.77 577.7,388.25 578.2,387.87 578.7,386.90 579.2,386.59 579.7,385.80 580.2,385.37 580.7,384.83 581.2,384.15 581.7,383.59 582.2,382.81 582.7,381.72 583.2,381.16 583.7,380.70 584.2,379.89 584.7,378.88 585.2,377.81 585.7,377.36 586.2,375.91 586.7,375.24 587.2,374.20 587.7,373.20 588.2,371.96 588.7,370.94 589.2,369.97 589.7,368.60 590.2,367.27 590.7,366.18 591.2,364.89 591.7,363.52 592.2,362.06 592.7,360.80 593.2,359.27 593.7,357.64 594.2,356.27 594.7,354.67 595.2,353.08 595.7,351.22 596.2,349.66 596.7,348.11 597.2,346.44 597.7,344.63 598.2,342.85 598.7,341.15 599.2,339.41 599.7,337.73 600.2,335.81 600.7,333.94 601.2,332.35 601.7,330.38 602.2,328.98 602.7,327.33 603.2,325.87 603.7,324.48 604.2,323.07 604.7,321.63 605.2,320.60 605.7,319.51 606.2,318.69 606.7,317.95 607.2,317.15 607.7,316.86 608.2,316.58 608.7,316.21 609.2,316.29 609.7,316.15 610.2,316.55 610.7,317.16 611.2,317.41 611.7,318.29 612.2,319.11 612.7,320.34 613.2,321.45 613.7,322.46 614.2,323.87 614.7,324.96 615.2,326.86 615.7,328.36 616.2,330.10 616.7,331.32 617.2,333.36 617.7,335.01 618.2,336.50 618.7,338.50 619.2,340.35 619.7,342.23 620.2,343.93 620.7,345.59 621.2,347.44 621.7,349.09 622.2,350.71 622.7,352.32 623.2,354.09 623.7,355.68 624.2,357.44 624.7,358.68 625.2,360.40 625.7,361.69 626.2,363.19 626.7,364.30 627.2,365.63 627.7,366.97 628.2,368.36 628.7,369.47 629.2,370.71 629.7,371.78 630.2,372.95 630.7,373.91 631.2,374.84 631.7,375.94 632.2,376.84 632.7,377.96 633.2,378.61 633.7,379.50 634.2,380.27 634.7,381.24 635.2,381.97 635.7,382.69 636.2,383.17 636.7,383.83 637.2,384.71 637.7,385.40 638.2,386.11 638.7,386.32 639.2,387.09 639.7,387.46 640.2,388.08 640.7,388.69 641.2,389.33 641.7,389.63 642.2,390.08 642.7,390.57 643.2,391.20 643.7,391.76 644.2,391.69 644.7,392.23 645.2,392.59 645.7,393.15 646.2,393.42 646.7,393.89 647.2,393.92 647.7,394.36 648.2,394.62 648.7,394.84 649.2,395.25 649.7,395.41 650.2,396.08 650.7,396.14 651.2,396.22 651.7,396.52 652.2,397.05 652.7,397.02 653.2,397.38 653.7,397.59 654.2,397.87 654.7,398.02 655.2,398.13 655.7,398.28 656.2,398.33 656.7,398.72 657.2,398.93 657.7,399.04 658.2,399.24 658.7,399.28 659.2,399.85 659.7,399.69 660.2,399.78 660.7,399.98 661.2,400.18 661.7,400.43 662.2,400.19 662.7,400.68 663.2,400.68 663.7,400.86 664.2,401.13 664.7,401.22 665.2,401.17 665.7,401.36 666.2,401.71 666.7,401.76 667.2,401.81 667.7,401.82 668.2,402.03 668.7,402.07 669.2,402.06 669.7,402.10 670.2,402.38 670.7,402.46 671.2,402.65 671.7,402.53 672.2,402.85 672.7,402.72 673.2,403.00 673.7,403.00 674.2,402.94 674.7,402.98 675.2,403.15 675.7,403.21 676.2,403.43 676.7,403.31 677.2,403.28 677.7,403.53 678.2,403.83 678.7,403.86 679.2,403.66 679.7,403.77 680.2,403.90 680.7,403.84 681.2,403.96 681.7,404.01 682.2,403.98 682.7,404.09 683.2,404.16 683.7,404.30 684.2,404.19 684.7,404.39 685.2,404.32 685.7,404.39 686.2,404.40 686.7,405.07 687.2,404.79 687.7,404.84 688.2,404.83 688.7,404.75 689.2,404.83 689.7,404.90 690.2,404.96 690.7,405.03 691.2,405.18 691.7,404.68 692.2,405.01 692.7,405.20 693.2,405.12 693.7,405.18 694.2,405.42 694.7,405.30 695.2,405.53 695.7,405.34 696.2,405.41 696.7,405.29 697.2,405.22 697.7,405.44 698.2,405.53 698.7,405.52 699.2,405.43 699.7,405.70 700.2,405.67 700.7,405.69 701.2,405.63 701.7,405.95 702.2,405.96 702.7,405.85 703.2,405.82 703.7,405.90 704.2,406.10 704.7,406.26 705.2,405.95 705.7,405.93 706.2,405.79 706.7,406.37 707.2,405.93 707.7,406.19 708.2,406.17 708.7,406.29 709.2,406.06 709.7,405.99 710.2,406.23 710.7,406.28 711.2,406.39 711.7,406.08 712.2,406.25 712.7,406.29 713.2,406.18 713.7,406.35 714.2,406.48 714.7,406.41 715.2,406.26 715.7,406.49 716.2,406.58 716.7,406.56 717.2,406.61 717.7,406.33 718.2,406.61 718.7,406.64 719.2,406.54 719.7,406.60 720.2,406.53 720.7,406.79 721.2,406.63 721.7,406.57 722.2,406.72 722.7,406.73 723.2,406.81 723.7,406.65 724.2,406.69 724.7,406.83 725.2,407.07 725.7,406.87 726.2,406.67 726.7,406.87 727.2,406.77 727.7,406.66 728.2,406.81 728.7,406.84 729.2,406.98 729.7,407.10 730.2,407.09 730.7,407.07 731.2,406.93 731.7,407.02 732.2,407.01 732.7,407.20 733.2,406.96 733.7,406.99 734.2,407.25 734.7,407.15 735.2,407.04 735.7,407.13 736.2,407.14 736.7,407.16 737.2,407.24 737.7,407.20 738.2,407.15 738.7,407.12 739.2,406.99 739.7,407.16 740.2,407.36 740.7,407.26 741.2,407.17 741.7,407.23 742.2,407.16 742.7,407.31 743.2,407.53 743.7,407.52 744.2,407.46 744.7,407.42 745.2,407.31 745.7,407.20" fill="none" stroke="#000" stroke-width="1.9" stroke-linejoin="round"/>
<polyline points="452.2,502.78 452.7,502.57 453.2,502.49 453.7,502.33 454.2,502.63 454.7,502.81 455.2,502.66 455.7,502.71 456.2,502.76 456.7,502.53 457.2,502.94 457.7,502.51 458.2,502.66 458.7,502.93 459.2,502.58 459.7,502.60 460.2,502.52 460.7,502.61 461.2,502.31 461.7,502.48 462.2,502.75 462.7,502.57 463.2,502.50 463.7,502.57 464.2,502.56 464.7,502.52 465.2,502.57 465.7,502.29 466.2,502.55 466.7,502.39 467.2,502.56 467.7,502.45 468.2,502.32 468.7,502.42 469.2,502.30 469.7,502.54 470.2,502.40 470.7,502.50 471.2,502.25 471.7,502.57 472.2,502.33 472.7,502.52 473.2,502.45 473.7,502.20 474.2,502.36 474.7,502.25 475.2,502.35 475.7,502.46 476.2,502.36 476.7,502.39 477.2,502.11 477.7,502.27 478.2,502.27 478.7,502.35 479.2,502.13 479.7,502.26 480.2,502.23 480.7,501.99 481.2,502.03 481.7,502.20 482.2,501.99 482.7,501.97 483.2,502.21 483.7,502.13 484.2,502.05 484.7,502.08 485.2,502.00 485.7,501.97 486.2,501.97 486.7,502.05 487.2,502.15 487.7,501.92 488.2,501.96 488.7,501.92 489.2,501.78 489.7,501.95 490.2,502.01 490.7,501.78 491.2,501.97 491.7,501.78 492.2,501.97 492.7,501.97 493.2,501.76 493.7,501.55 494.2,501.73 494.7,501.58 495.2,501.57 495.7,501.68 496.2,501.86 496.7,501.67 497.2,501.63 497.7,501.42 498.2,501.55 498.7,501.43 499.2,501.64 499.7,501.50 500.2,501.53 500.7,501.52 501.2,501.47 501.7,501.59 502.2,501.51 502.7,501.39 503.2,501.43 503.7,501.45 504.2,501.53 504.7,501.36 505.2,501.49 505.7,501.22 506.2,501.24 506.7,501.07 507.2,501.32 507.7,501.07 508.2,501.05 508.7,501.25 509.2,501.05 509.7,501.00 510.2,501.18 510.7,501.02 511.2,501.12 511.7,500.93 512.2,501.04 512.7,501.05 513.2,500.90 513.7,501.08 514.2,500.79 514.7,500.78 515.2,500.78 515.7,500.86 516.2,500.67 516.7,500.62 517.2,500.67 517.7,500.76 518.2,500.52 518.7,500.39 519.2,500.49 519.7,500.54 520.2,500.37 520.7,500.41 521.2,500.13 521.7,500.32 522.2,500.29 522.7,500.32 523.2,500.24 523.7,500.25 524.2,500.00 524.7,500.16 525.2,499.84 525.7,499.92 526.2,500.08 526.7,500.00 527.2,499.63 527.7,499.88 528.2,499.71 528.7,499.62 529.2,499.69 529.7,499.63 530.2,499.73 530.7,499.34 531.2,499.41 531.7,499.39 532.2,499.13 532.7,499.44 533.2,499.45 533.7,499.11 534.2,499.17 534.7,499.04 535.2,499.04 535.7,498.87 536.2,498.99 536.7,498.68 537.2,498.92 537.7,498.73 538.2,498.92 538.7,498.36 539.2,498.47 539.7,498.26 540.2,498.33 540.7,498.32 541.2,498.08 541.7,497.95 542.2,497.83 542.7,497.99 543.2,498.03 543.7,497.94 544.2,497.72 544.7,497.51 545.2,497.49 545.7,497.27 546.2,497.17 546.7,497.39 547.2,497.13 547.7,497.11 548.2,496.94 548.7,497.03 549.2,496.94 549.7,496.57 550.2,496.51 550.7,496.36 551.2,496.49 551.7,496.37 552.2,496.06 552.7,496.26 553.2,495.86 553.7,495.59 554.2,495.36 554.7,495.45 555.2,495.38 555.7,495.13 556.2,495.10 556.7,495.06 557.2,494.76 557.7,494.72 558.2,494.67 558.7,494.37 559.2,494.08 559.7,494.04 560.2,493.88 560.7,493.90 561.2,493.41 561.7,493.10 562.2,493.13 562.7,492.95 563.2,492.66 563.7,492.58 564.2,492.34 564.7,492.24 565.2,491.78 565.7,491.57 566.2,491.43 566.7,491.14 567.2,491.11 567.7,490.78 568.2,490.46 568.7,490.39 569.2,490.00 569.7,489.78 570.2,489.48 570.7,489.08 571.2,488.78 571.7,488.50 572.2,488.05 572.7,487.82 573.2,487.63 573.7,487.23 574.2,486.73 574.7,486.77 575.2,485.99 575.7,485.81 576.2,485.43 576.7,485.09 577.2,484.42 577.7,484.10 578.2,483.63 578.7,483.34 579.2,482.78 579.7,482.30 580.2,481.82 580.7,481.48 581.2,480.80 581.7,480.28 582.2,479.51 582.7,479.13 583.2,478.30 583.7,477.95 584.2,477.22 584.7,476.45 585.2,475.75 585.7,475.18 586.2,474.49 586.7,473.67 587.2,472.94 587.7,472.16 588.2,471.33 588.7,470.54 589.2,469.73 589.7,468.97 590.2,467.98 590.7,466.90 591.2,466.20 591.7,465.15 592.2,463.96 592.7,463.06 593.2,461.79 593.7,460.65 594.2,459.51 594.7,458.61 595.2,457.23 595.7,456.02 596.2,454.72 596.7,453.37 597.2,452.15 597.7,450.83 598.2,449.60 598.7,447.86 599.2,446.71 599.7,445.16 600.2,443.40 600.7,442.23 601.2,440.81 601.7,439.23 602.2,437.60 602.7,436.06 603.2,434.28 603.7,433.04 604.2,431.51 604.7,429.88 605.2,428.54 605.7,427.00 606.2,425.94 606.7,424.16 607.2,422.89 607.7,421.48 608.2,420.50 608.7,419.44 609.2,418.39 609.7,417.36 610.2,416.68 610.7,415.85 611.2,415.31 611.7,414.61 612.2,413.98 612.7,413.86 613.2,413.56 613.7,413.71 614.2,413.59 614.7,413.80 615.2,414.12 615.7,414.35 616.2,415.01 616.7,415.80 617.2,416.37 617.7,417.26 618.2,418.23 618.7,419.16 619.2,420.31 619.7,421.57 620.2,422.72 620.7,424.08 621.2,425.41 621.7,426.70 622.2,428.11 622.7,429.97 623.2,431.39 623.7,432.72 624.2,434.37 624.7,435.92 625.2,437.43 625.7,438.80 626.2,440.19 626.7,441.72 627.2,443.34 627.7,445.01 628.2,446.49 628.7,447.71 629.2,449.11 629.7,450.69 630.2,452.15 630.7,453.12 631.2,454.59 631.7,455.83 632.2,457.01 632.7,458.23 633.2,459.41 633.7,460.60 634.2,461.54 634.7,462.81 635.2,463.97 635.7,465.00 636.2,466.00 636.7,466.92 637.2,467.85 637.7,468.98 638.2,469.62 638.7,470.52 639.2,471.49 639.7,472.16 640.2,472.79 640.7,473.65 641.2,474.41 641.7,475.16 642.2,475.82 642.7,476.68 643.2,477.30 643.7,477.91 644.2,478.42 644.7,479.19 645.2,479.77 645.7,480.48 646.2,480.69 646.7,481.29 647.2,481.98 647.7,482.19 648.2,482.84 648.7,483.30 649.2,483.74 649.7,484.07 650.2,484.62 650.7,484.85 651.2,485.58 651.7,485.78 652.2,486.24 652.7,486.59 653.2,486.98 653.7,487.33 654.2,487.71 654.7,487.95 655.2,488.32 655.7,488.50 656.2,488.82 656.7,489.14 657.2,489.41 657.7,489.65 658.2,490.02 658.7,490.44 659.2,490.67 659.7,490.83 660.2,491.16 660.7,491.41 661.2,491.93 661.7,491.65 662.2,492.09 662.7,492.13 663.2,492.65 663.7,492.68 664.2,492.96 664.7,493.13 665.2,493.38 665.7,493.14 666.2,493.54 666.7,493.86 667.2,493.87 667.7,494.27 668.2,494.52 668.7,494.38 669.2,494.64 669.7,494.93 670.2,495.22 670.7,495.27 671.2,495.39 671.7,495.34 672.2,495.59 672.7,495.74 673.2,495.78 673.7,496.03 674.2,496.08 674.7,496.19 675.2,496.61 675.7,496.46 676.2,496.82 676.7,496.67 677.2,496.82 677.7,496.79 678.2,496.98 678.7,497.34 679.2,497.26 679.7,497.12 680.2,497.63 680.7,497.45 681.2,497.60 681.7,497.74 682.2,497.61 682.7,498.11 683.2,498.17 683.7,498.06 684.2,498.23 684.7,498.23 685.2,498.28 685.7,498.40 686.2,498.34 686.7,498.54 687.2,498.60 687.7,498.97 688.2,498.64 688.7,499.04 689.2,499.04 689.7,499.04 690.2,499.02 690.7,499.38 691.2,499.40 691.7,499.29 692.2,499.33 692.7,499.44 693.2,499.70 693.7,499.43 694.2,499.61 694.7,499.79 695.2,499.55 695.7,499.76 696.2,499.96 696.7,499.83 697.2,499.92 697.7,499.80 698.2,500.09 698.7,499.95 699.2,500.10 699.7,500.23 700.2,500.17 700.7,500.39 701.2,500.42 701.7,500.44 702.2,500.55 702.7,500.45 703.2,500.26 703.7,500.67 704.2,500.70 704.7,500.59 705.2,500.59 705.7,500.87 706.2,500.71 706.7,500.77 707.2,500.80 707.7,501.17 708.2,500.84 708.7,500.65 709.2,500.99 709.7,500.91 710.2,500.86 710.7,501.12 711.2,501.07 711.7,501.27 712.2,501.16 712.7,501.38 713.2,501.39 713.7,501.30 714.2,501.43 714.7,501.58 715.2,501.48 715.7,501.26 716.2,501.47 716.7,501.51 717.2,501.67 717.7,501.53 718.2,501.71 718.7,501.59 719.2,501.64 719.7,501.63 720.2,501.69 720.7,501.70 721.2,501.78 721.7,501.68 722.2,501.67 722.7,501.81 723.2,501.86 723.7,501.82 724.2,501.94 724.7,501.96 725.2,502.14 725.7,501.79 726.2,502.22 726.7,501.73 727.2,501.82 727.7,502.09 728.2,501.96 728.7,502.06 729.2,502.07 729.7,501.98 730.2,502.00 730.7,502.14 731.2,502.24 731.7,502.29 732.2,502.26 732.7,502.22 733.2,502.43 733.7,502.04 734.2,502.33 734.7,502.49 735.2,502.55 735.7,502.52 736.2,502.56 736.7,502.54 737.2,502.45 737.7,502.19 738.2,502.41 738.7,502.46 739.2,502.70 739.7,502.48 740.2,502.50 740.7,502.64 741.2,502.46 741.7,502.60 742.2,502.68 742.7,502.59 743.2,502.64 743.7,502.45 744.2,502.53 744.7,502.66 745.2,502.84 745.7,502.65" fill="none" stroke="#000" stroke-width="1.9" stroke-linejoin="round"/>
<polyline points="452.2,599.43 452.7,599.48 453.2,599.64 453.7,599.52 454.2,599.64 454.7,599.66 455.2,599.39 455.7,599.67 456.2,599.47 456.7,599.79 457.2,599.62 457.7,599.46 458.2,599.54 458.7,599.53 459.2,599.54 459.7,599.66 460.2,599.54 460.7,599.67 461.2,599.54 461.7,599.43 462.2,599.26 462.7,599.25 463.2,599.45 463.7,599.50 464.2,599.58 464.7,599.33 465.2,599.40 465.7,599.29 466.2,599.32 466.7,599.09 467.2,599.44 467.7,599.26 468.2,599.33 468.7,599.38 469.2,599.36 469.7,599.15 470.2,599.48 470.7,599.38 471.2,599.34 471.7,599.19 472.2,599.06 472.7,599.05 473.2,599.21 473.7,599.24 474.2,599.13 474.7,599.42 475.2,599.23 475.7,599.30 476.2,599.28 476.7,599.03 477.2,599.26 477.7,599.19 478.2,598.97 478.7,599.20 479.2,599.22 479.7,599.20 480.2,599.20 480.7,598.89 481.2,599.02 481.7,598.97 482.2,599.03 482.7,599.02 483.2,599.13 483.7,599.07 484.2,598.87 484.7,599.06 485.2,599.13 485.7,598.96 486.2,598.73 486.7,598.82 487.2,598.86 487.7,598.67 488.2,598.84 488.7,598.68 489.2,598.92 489.7,598.89 490.2,598.78 490.7,598.62 491.2,598.79 491.7,598.67 492.2,598.64 492.7,598.84 493.2,598.60 493.7,598.51 494.2,598.75 494.7,598.86 495.2,598.82 495.7,598.70 496.2,598.84 496.7,598.53 497.2,598.81 497.7,598.79 498.2,598.47 498.7,598.55 499.2,598.32 499.7,598.33 500.2,598.51 500.7,598.28 501.2,598.42 501.7,598.43 502.2,598.37 502.7,598.45 503.2,598.55 503.7,598.31 504.2,598.39 504.7,598.43 505.2,598.17 505.7,598.12 506.2,597.89 506.7,598.21 507.2,598.26 507.7,598.16 508.2,598.34 508.7,598.25 509.2,598.14 509.7,598.01 510.2,597.88 510.7,597.97 511.2,597.99 511.7,597.90 512.2,597.84 512.7,597.81 513.2,597.91 513.7,597.59 514.2,597.73 514.7,597.75 515.2,597.79 515.7,597.76 516.2,597.62 516.7,597.55 517.2,597.45 517.7,597.70 518.2,597.59 518.7,597.52 519.2,597.37 519.7,597.29 520.2,597.53 520.7,597.35 521.2,597.38 521.7,597.50 522.2,597.06 522.7,597.12 523.2,597.22 523.7,597.21 524.2,596.97 524.7,597.05 525.2,596.95 525.7,596.91 526.2,596.98 526.7,596.92 527.2,597.00 527.7,596.88 528.2,596.95 528.7,596.62 529.2,596.73 529.7,596.46 530.2,596.38 530.7,596.37 531.2,596.57 531.7,596.46 532.2,596.19 532.7,596.50 533.2,596.40 533.7,596.21 534.2,596.15 534.7,596.13 535.2,595.93 535.7,596.30 536.2,595.90 536.7,595.88 537.2,595.80 537.7,595.70 538.2,595.61 538.7,595.70 539.2,595.45 539.7,595.41 540.2,595.37 540.7,595.50 541.2,595.21 541.7,595.14 542.2,595.23 542.7,594.98 543.2,595.01 543.7,595.08 544.2,594.95 544.7,594.82 545.2,594.92 545.7,594.61 546.2,594.51 546.7,594.28 547.2,594.41 547.7,594.40 548.2,594.15 548.7,594.37 549.2,594.17 549.7,594.07 550.2,593.72 550.7,593.80 551.2,593.71 551.7,593.32 552.2,593.46 552.7,593.32 553.2,593.03 553.7,593.19 554.2,593.27 554.7,592.99 555.2,592.68 555.7,592.63 556.2,592.68 556.7,592.32 557.2,592.33 557.7,592.16 558.2,592.04 558.7,592.08 559.2,591.56 559.7,591.74 560.2,591.48 560.7,591.29 561.2,590.95 561.7,591.03 562.2,590.78 562.7,590.31 563.2,590.33 563.7,590.18 564.2,590.02 564.7,589.89 565.2,589.67 565.7,589.77 566.2,589.52 566.7,589.18 567.2,589.15 567.7,589.03 568.2,588.61 568.7,588.17 569.2,588.15 569.7,588.04 570.2,587.51 570.7,587.38 571.2,587.25 571.7,587.02 572.2,586.71 572.7,586.38 573.2,586.04 573.7,585.70 574.2,585.59 574.7,585.28 575.2,584.79 575.7,584.45 576.2,584.35 576.7,583.98 577.2,583.42 577.7,582.95 578.2,582.79 578.7,582.50 579.2,582.12 579.7,581.70 580.2,581.00 580.7,580.77 581.2,580.27 581.7,579.78 582.2,579.72 582.7,578.92 583.2,578.45 583.7,577.87 584.2,577.47 584.7,576.98 585.2,576.25 585.7,575.70 586.2,575.06 586.7,574.37 587.2,573.84 587.7,573.26 588.2,572.54 588.7,571.82 589.2,570.91 589.7,570.44 590.2,569.66 590.7,569.04 591.2,567.97 591.7,567.05 592.2,566.13 592.7,565.40 593.2,564.56 593.7,563.66 594.2,562.47 594.7,561.60 595.2,560.76 595.7,559.60 596.2,558.47 596.7,557.35 597.2,556.06 597.7,554.91 598.2,553.81 598.7,552.79 599.2,551.51 599.7,550.06 600.2,548.83 600.7,547.46 601.2,546.17 601.7,544.54 602.2,543.23 602.7,541.86 603.2,540.12 603.7,538.78 604.2,537.31 604.7,535.82 605.2,534.31 605.7,532.79 606.2,531.32 606.7,529.85 607.2,528.22 607.7,526.94 608.2,525.16 608.7,523.75 609.2,522.41 609.7,520.92 610.2,519.53 610.7,518.30 611.2,517.41 611.7,516.08 612.2,514.96 612.7,514.41 613.2,513.37 613.7,512.60 614.2,511.81 614.7,511.42 615.2,510.90 615.7,510.68 616.2,510.46 616.7,510.37 617.2,510.48 617.7,510.52 618.2,510.88 618.7,511.25 619.2,511.92 619.7,512.60 620.2,513.36 620.7,513.87 621.2,515.25 621.7,516.05 622.2,517.16 622.7,518.35 623.2,519.60 623.7,521.06 624.2,522.28 624.7,523.70 625.2,525.21 625.7,526.72 626.2,527.93 626.7,529.41 627.2,530.85 627.7,532.38 628.2,534.17 628.7,535.66 629.2,537.17 629.7,538.71 630.2,540.20 630.7,541.78 631.2,543.29 631.7,544.42 632.2,546.11 632.7,547.44 633.2,548.57 633.7,550.01 634.2,551.23 634.7,552.35 635.2,553.80 635.7,554.80 636.2,556.18 636.7,557.20 637.2,558.40 637.7,559.62 638.2,560.59 638.7,561.51 639.2,562.63 639.7,563.65 640.2,564.62 640.7,565.32 641.2,566.44 641.7,567.15 642.2,567.94 642.7,568.95 643.2,569.67 643.7,570.44 644.2,571.11 644.7,571.60 645.2,572.56 645.7,573.25 646.2,573.82 646.7,574.67 647.2,575.10 647.7,575.88 648.2,576.40 648.7,576.74 649.2,577.27 649.7,577.86 650.2,578.40 650.7,578.99 651.2,579.32 651.7,579.73 652.2,580.57 652.7,580.76 653.2,581.22 653.7,581.81 654.2,582.02 654.7,582.12 655.2,582.84 655.7,583.08 656.2,583.63 656.7,583.65 657.2,584.23 657.7,584.63 658.2,585.03 658.7,585.29 659.2,585.59 659.7,585.78 660.2,586.06 660.7,586.23 661.2,586.74 661.7,587.08 662.2,587.22 662.7,587.30 663.2,587.48 663.7,587.83 664.2,588.31 664.7,588.37 665.2,588.46 665.7,588.75 666.2,589.10 666.7,589.13 667.2,589.36 667.7,589.54 668.2,589.69 668.7,590.22 669.2,590.07 669.7,590.38 670.2,590.66 670.7,590.68 671.2,590.81 671.7,591.00 672.2,591.18 672.7,591.31 673.2,591.43 673.7,591.59 674.2,591.79 674.7,592.13 675.2,592.01 675.7,592.29 676.2,592.30 676.7,592.34 677.2,592.44 677.7,592.74 678.2,592.67 678.7,593.00 679.2,593.02 679.7,593.38 680.2,593.16 680.7,593.53 681.2,593.67 681.7,593.71 682.2,593.65 682.7,593.85 683.2,593.92 683.7,593.99 684.2,594.21 684.7,594.18 685.2,594.31 685.7,594.50 686.2,594.45 686.7,594.50 687.2,594.65 687.7,594.65 688.2,594.52 688.7,594.81 689.2,594.93 689.7,594.88 690.2,594.88 690.7,595.23 691.2,595.17 691.7,595.39 692.2,595.44 692.7,595.64 693.2,595.59 693.7,595.70 694.2,595.81 694.7,595.67 695.2,595.91 695.7,595.98 696.2,595.68 696.7,595.83 697.2,596.03 697.7,596.28 698.2,596.09 698.7,596.03 699.2,596.05 699.7,596.33 700.2,596.37 700.7,596.32 701.2,596.48 701.7,596.45 702.2,596.68 702.7,596.43 703.2,596.58 703.7,596.82 704.2,596.66 704.7,596.67 705.2,596.79 705.7,597.09 706.2,596.94 706.7,597.12 707.2,596.88 707.7,597.01 708.2,597.16 708.7,597.14 709.2,597.09 709.7,596.93 710.2,597.29 710.7,597.36 711.2,597.36 711.7,597.14 712.2,597.21 712.7,597.34 713.2,597.32 713.7,597.61 714.2,597.38 714.7,597.51 715.2,597.45 715.7,597.40 716.2,597.76 716.7,597.70 717.2,597.62 717.7,597.74 718.2,597.51 718.7,597.99 719.2,597.70 719.7,597.63 720.2,597.76 720.7,597.94 721.2,597.94 721.7,598.05 722.2,598.08 722.7,598.03 723.2,598.17 723.7,597.86 724.2,598.16 724.7,598.18 725.2,598.19 725.7,598.16 726.2,598.14 726.7,598.15 727.2,598.04 727.7,598.21 728.2,598.42 728.7,598.49 729.2,598.28 729.7,598.30 730.2,598.32 730.7,598.39 731.2,598.43 731.7,598.50 732.2,598.64 732.7,598.25 733.2,598.38 733.7,598.47 734.2,598.54 734.7,598.62 735.2,598.80 735.7,598.50 736.2,598.70 736.7,598.63 737.2,598.67 737.7,598.72 738.2,598.80 738.7,598.73 739.2,598.60 739.7,598.81 740.2,598.83 740.7,598.60 741.2,598.86 741.7,598.81 742.2,598.82 742.7,598.86 743.2,599.08 743.7,598.69 744.2,598.92 744.7,598.69 745.2,598.93 745.7,599.06" fill="none" stroke="#484848" stroke-width="1.9" stroke-linejoin="round"/>
<polyline points="894.1,601.2 909.3,602.0 924.5,600.8 939.7,601.4 954.9,601.7 970.1,597.1 985.3,601.4 1000.5,598.7 1015.7,597.1 1030.9,596.5 1046.1,593.1 1061.3,592.9 1076.5,594.5 1091.7,592.6 1106.9,591.3 1122.1,587.2 1137.3,587.4 1152.5,587.8 1167.7,584.2 1182.9,584.2 1198.1,583.0 1213.3,581.5 1228.5,579.7 1243.7,579.7 1258.9,576.3 1274.1,574.2 1289.3,571.0 1304.5,564.6 1319.7,563.8 1334.9,562.1 1350.1,553.6 1365.3,544.1 1380.5,535.6 1395.7,527.1 1410.9,521.8 1426.1,512.7 1441.3,504.4 1456.5,494.6 1471.7,492.2 1486.9,483.3 1502.1,478.1 1517.3,471.7 1532.5,469.0 1547.7,462.4 1562.9,455.8 1578.1,450.4 1593.3,445.7 1608.5,441.8" fill="none" stroke="#333" stroke-width="2" stroke-linejoin="round"/>
<polyline points="894.1,601.4 909.3,602.0 924.5,600.6 939.7,601.7 954.9,600.2 970.1,596.1 985.3,601.4 1000.5,598.7 1015.7,595.3 1030.9,598.4 1046.1,596.5 1061.3,593.9 1076.5,592.3 1091.7,592.0 1106.9,588.8 1122.1,581.5 1137.3,570.2 1152.5,567.7 1167.7,562.6 1182.9,550.1 1198.1,553.1 1213.3,544.4 1228.5,542.2 1243.7,535.5 1258.9,535.6 1274.1,534.0 1289.3,524.3 1304.5,520.5 1319.7,511.0 1334.9,492.9 1350.1,470.6 1365.3,447.8 1380.5,421.0 1395.7,373.0 1410.9,321.4 1426.1,280.0 1441.3,238.0 1456.5,210.5 1471.7,189.0 1486.9,162.5 1502.1,142.4 1517.3,131.4 1532.5,99.3 1547.7,84.0 1562.9,68.6 1578.1,49.0 1593.3,36.8 1608.5,17.5" fill="none" stroke="#ee1c24" stroke-width="2" stroke-linejoin="round"/>
<text transform="translate(-1.44,32.82) scale(0.4286,0.4085)" class="sb" fill="#000">(a)</text>
<text transform="translate(388.19,32.82) scale(0.4212,0.4085)" class="sb" fill="#000">(b)</text>
<text transform="translate(795.90,32.29) scale(0.4196,0.4149)" class="sb" fill="#000">(c)</text>
<text transform="translate(269.91,46.36) scale(0.4215,0.4437)" class="sb" fill="#000">Cu1</text>
<text transform="translate(659.93,46.36) scale(0.4177,0.4437)" class="sb" fill="#000">Cu3</text>
<text transform="translate(65.94,104.94) scale(0.3321,0.3266)" class="sb" fill="#000">(vi)</text>
<text transform="translate(67.79,200.93) scale(0.3411,0.3223)" class="sb" fill="#000">(v)</text>
<text transform="translate(66.39,295.18) scale(0.3214,0.3106)" class="sb" fill="#000">(iv)</text>
<text transform="translate(65.77,393.16) scale(0.3257,0.3255)" class="sb" fill="#000">(iii)</text>
<text transform="translate(67.79,489.24) scale(0.3411,0.3266)" class="sb" fill="#000">(ii)</text>
<text transform="translate(70.97,584.74) scale(0.3464,0.3266)" class="sb" fill="#000">(i)</text>
<text transform="translate(455.77,104.52) scale(0.3257,0.3277)" class="sb" fill="#000">(vi)</text>
<text transform="translate(457.79,198.18) scale(0.3411,0.3106)" class="sb" fill="#000">(v)</text>
<text transform="translate(455.67,293.28) scale(0.3264,0.3202)" class="sb" fill="#000">(iv)</text>
<text transform="translate(455.67,390.28) scale(0.3264,0.3106)" class="sb" fill="#000">(iii)</text>
<text transform="translate(458.31,486.95) scale(0.3384,0.3213)" class="sb" fill="#000">(ii)</text>
<text transform="translate(460.69,581.95) scale(0.3417,0.3213)" class="sb" fill="#000">(i)</text>
<text transform="translate(51.34,677.00) scale(0.4316,0.4449)" class="sr" fill="#000">41</text>
<text transform="translate(185.15,676.57) scale(0.4229,0.4324)" class="sr" fill="#000">43</text>
<text transform="translate(319.75,676.56) scale(0.4229,0.4386)" class="sr" fill="#000">45</text>
<text transform="translate(157.75,745.30) scale(0.4837,0.5100)" class="sb" fill="#000">2</text>
<text transform="translate(185.43,745.72) scale(0.5182,0.4831)" class="serifb" fill="#000">θ</text>
<text transform="translate(237.82,728.49) scale(0.3189,0.3109)" class="sb" fill="#000">o</text>
<text transform="translate(441.34,677.00) scale(0.4316,0.4449)" class="sr" fill="#000">41</text>
<text transform="translate(575.15,676.57) scale(0.4229,0.4324)" class="sr" fill="#000">43</text>
<text transform="translate(709.75,676.56) scale(0.4229,0.4386)" class="sr" fill="#000">45</text>
<text transform="translate(547.75,745.30) scale(0.4837,0.5100)" class="sb" fill="#000">2</text>
<text transform="translate(575.43,745.72) scale(0.5182,0.4831)" class="serifb" fill="#000">θ</text>
<text transform="translate(627.82,728.49) scale(0.3189,0.3109)" class="sb" fill="#000">o</text>
<text transform="translate(34.83,448.78) rotate(-90) scale(0.4201,0.4128)" class="sr" fill="#000">Intensity (a.u.)</text>
<text transform="translate(856.66,103.05) scale(0.4176,0.4456)" class="sr" fill="#000">4</text>
<text transform="translate(857.19,272.57) scale(0.4277,0.4324)" class="sr" fill="#000">3</text>
<text transform="translate(856.27,443.40) scale(0.4457,0.4329)" class="sr" fill="#000">2</text>
<text transform="translate(858.51,613.80) scale(0.4391,0.4391)" class="sr" fill="#000">1</text>
<text transform="translate(965.90,681.08) scale(0.4123,0.4211)" class="sr" fill="#000">100</text>
<text transform="translate(1116.92,681.08) scale(0.4165,0.4211)" class="sr" fill="#000">200</text>
<text transform="translate(1269.34,681.19) scale(0.4157,0.4099)" class="sr" fill="#000">300</text>
<text transform="translate(1421.07,681.19) scale(0.4149,0.4099)" class="sr" fill="#000">400</text>
<text transform="translate(1573.05,681.19) scale(0.4126,0.4099)" class="sr" fill="#000">500</text>
<text transform="translate(1082.98,738.83) scale(0.4187,0.4222)" class="sb" fill="#000">Temperature</text>
<text transform="translate(1345.21,739.57) scale(0.3786,0.4064)" class="sb" fill="#000">(</text>
<text transform="translate(1358.65,723.21) scale(0.2887,0.2927)" class="sb" fill="#000">o</text>
<text transform="translate(1376.49,739.47) scale(0.4015,0.4310)" class="sb" fill="#000">C</text>
<text transform="translate(1407.30,739.57) scale(0.3786,0.4064)" class="sb" fill="#000">)</text>
<text transform="translate(1037.74,75.67) scale(0.4144,0.4296)" class="sb" fill="#000">Cu3</text>
<text transform="translate(1037.74,127.37) scale(0.4145,0.4296)" class="sb" fill="#000">Cu1</text>
<text transform="translate(830.63,376.34) rotate(-90) scale(0.5204,0.4358)" class="sbi" fill="#000">S</text>
<text transform="translate(842.00,350.06) rotate(-90) scale(0.2947,0.2908)" class="sbi" fill="#000">T</text>
<text transform="translate(830.25,332.72) rotate(-90) scale(0.3767,0.4530)" class="serifb" fill="#000">/</text>
<text transform="translate(830.63,323.92) rotate(-90) scale(0.5122,0.4358)" class="sbi" fill="#000">S</text>
<text transform="translate(842.00,299.55) rotate(-90) scale(0.3500,0.2841)" class="sbi" fill="#000">i</text>
<text transform="translate(224.20,745.30) scale(0.4192)" class="sb">(</text>
<text transform="translate(257.46,745.30) scale(0.4192)" class="sb">)</text>
<text transform="translate(614.20,745.30) scale(0.4192)" class="sb">(</text>
<text transform="translate(647.46,745.30) scale(0.4192)" class="sb">)</text>
</svg>
</body></html>
